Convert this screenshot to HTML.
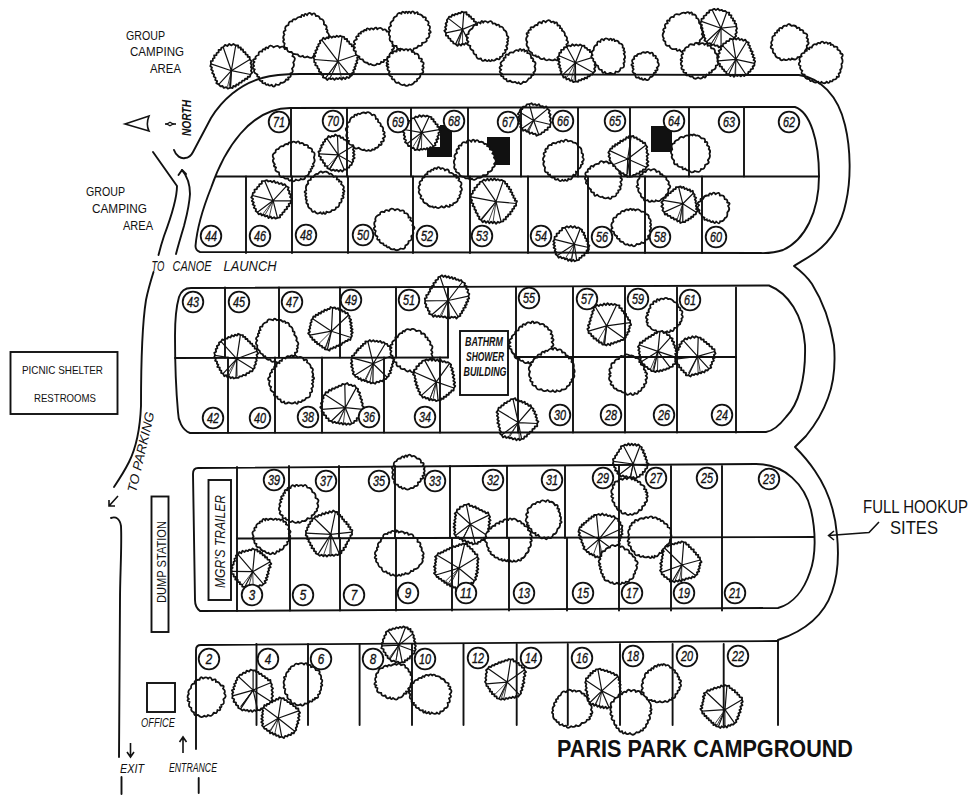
<!DOCTYPE html>
<html><head><meta charset="utf-8"><style>
html,body{margin:0;padding:0;background:#fff;width:971px;height:800px;overflow:hidden}
svg{display:block}
text{font-family:"Liberation Sans",sans-serif}
</style></head><body>
<svg width="971" height="800" viewBox="0 0 971 800">
<rect width="971" height="800" fill="#fff"/>
<g fill="#111">
<path d="M440,125 L452,125 L452,157 L427,157 L427,147 L440,147 Z"/>
<rect x="487" y="137" width="23" height="28"/>
<rect x="651" y="126" width="21" height="26"/>
</g>
<g fill="#fff" stroke="#111" stroke-width="1.8" stroke-linejoin="round">
<path d="M249.8,59.5L251.8,61.3L250.5,63.3L251.7,65.1L250.9,67.0L251.9,68.8L250.9,70.8L252.2,72.6L250.5,74.5L249.9,76.9L247.8,76.7L247.3,79.0L245.1,78.7L244.5,80.6L242.2,80.7L241.6,82.6L239.3,82.6L238.4,84.9L236.4,84.3L235.7,86.5L233.3,86.0L232.6,88.0L230.3,87.6L227.8,88.7L226.3,87.1L223.8,87.9L222.5,86.0L220.3,86.3L218.8,84.4L216.3,83.1L217.2,81.1L215.2,79.9L215.6,77.8L213.7,76.6L214.2,74.4L212.1,73.0L213.0,70.9L211.1,69.6L212.0,67.4L210.3,66.3L211.0,63.9L210.8,61.2L212.8,60.9L212.9,58.5L214.6,58.0L214.1,55.5L216.5,55.1L216.6,53.0L218.7,52.4L218.6,50.0L220.9,49.8L221.3,47.9L223.2,47.2L225.1,44.9L227.3,46.0L229.3,44.0L231.5,45.4L233.4,43.9L235.7,45.5L238.2,45.5L238.3,47.6L240.8,47.3L240.9,49.7L243.0,49.5L243.3,52.0L245.4,52.1L245.6,54.4L247.7,54.9L247.7,56.9L249.7,57.0L249.8,59.5Z"/>
<path d="M231.4,70.7L249.8,59.5M231.4,70.7L250.5,74.5M231.4,70.7L230.3,87.6M231.4,70.7L218.8,84.4M231.4,70.7L211.0,63.9M231.4,70.7L223.2,47.2M231.4,70.7L235.7,45.5" stroke-width="1.2"/>
<path d="M231.4,70.7L230.7,86.9M231.4,70.7L227.5,86.6M231.4,70.7L229.2,86.8" stroke-width="0.8"/>
<path d="M286.0,79.4Q285.0,83.6 280.7,82.6Q279.7,86.1 275.8,84.3Q273.9,88.8 271.7,84.8Q269.2,86.8 268.0,84.3Q265.6,85.8 265.1,83.0Q261.4,84.3 262.4,80.9Q259.0,82.2 259.1,76.9Q256.3,77.3 257.5,74.6Q252.3,72.1 254.8,69.4Q251.1,68.1 254.1,65.9Q251.9,63.8 254.5,62.0Q251.0,59.3 255.8,58.8Q254.3,56.2 258.7,55.0Q258.1,50.5 262.2,51.7Q262.3,47.9 265.3,49.6Q265.0,46.2 268.1,48.3Q269.7,43.6 273.6,47.3Q278.3,44.1 279.6,47.8Q283.3,44.9 284.8,49.1Q288.7,47.2 289.8,52.1Q294.6,51.9 292.4,56.2Q296.9,57.6 293.2,62.5Q295.2,65.8 292.0,68.7Q294.1,72.3 290.4,73.4Q291.8,77.8 288.0,77.4Q289.9,80.7 286.0,79.4Z"/>
<path d="M307.4,56.5Q304.2,58.6 302.9,55.8Q299.2,57.9 297.8,54.3Q292.3,54.6 291.7,51.9Q286.5,52.5 287.0,47.9Q282.8,48.3 284.7,43.5Q281.9,41.5 284.1,39.8Q282.1,37.0 284.5,34.5Q282.1,31.6 285.6,30.4Q283.9,26.1 288.4,25.2Q288.6,20.5 292.2,21.5Q292.5,18.5 295.6,19.5Q298.3,16.1 301.1,17.1Q301.4,13.2 304.0,16.1Q304.8,12.1 307.1,15.2Q309.4,10.8 311.8,14.9Q314.4,11.4 316.0,16.1Q319.5,15.3 320.0,18.9Q324.6,18.7 323.9,24.4Q328.2,26.1 326.0,29.2Q328.6,30.3 326.8,31.9Q331.3,35.4 327.1,38.2Q330.4,41.0 326.0,42.2Q327.9,46.9 323.5,46.7Q324.1,49.8 319.8,51.2Q320.1,55.2 317.4,53.4Q317.1,58.0 313.7,55.5Q312.4,59.8 307.4,56.5Z"/>
<path d="M314.3,59.5L313.3,57.2L315.2,56.1L313.9,53.9L316.2,52.8L315.3,50.6L317.4,49.5L316.7,47.3L318.7,46.3L318.2,44.2L320.3,43.2L319.8,40.9L321.9,40.1L323.3,37.8L325.2,39.2L326.5,37.5L328.5,38.3L329.9,36.1L331.9,37.7L333.3,36.4L335.3,37.2L336.8,35.7L338.7,36.9L340.2,35.7L342.1,36.7L344.1,36.8L344.6,39.1L347.1,39.0L347.1,41.4L349.0,41.5L349.4,43.8L351.8,44.4L351.7,46.4L354.2,46.4L353.8,49.0L355.7,49.1L355.9,51.7L357.9,52.1L357.9,54.5L359.4,56.7L357.1,57.7L357.8,59.7L356.3,60.9L357.3,62.9L355.4,64.1L355.9,66.0L354.3,67.2L355.3,69.0L353.1,70.2L353.9,72.2L351.8,73.3L352.0,75.2L350.4,76.3L348.7,78.0L346.9,76.9L345.2,79.1L343.3,77.4L341.7,79.6L339.8,77.8L338.1,79.1L336.2,78.1L334.5,79.9L332.7,78.2L331.0,79.2L329.1,78.2L327.4,80.0L325.5,78.1L322.9,77.3L323.3,75.2L321.3,74.7L321.2,72.3L318.9,71.6L319.2,69.2L317.5,68.1L317.4,66.0L315.2,65.1L315.8,62.8L314.2,62.2L314.3,59.5Z"/>
<path d="M338.0,61.3L314.3,59.5M338.0,61.3L321.9,40.1M338.0,61.3L342.1,36.7M338.0,61.3L357.9,54.5M338.0,61.3L350.4,76.3M338.0,61.3L325.5,78.1" stroke-width="1.2"/>
<path d="M338.0,61.3L329.9,78.4M338.0,61.3L341.5,78.6M338.0,61.3L329.8,78.4" stroke-width="0.8"/>
<path d="M356.0,51.4Q351.6,50.4 355.0,47.5Q351.9,45.4 355.2,44.0Q351.7,41.0 356.9,39.3Q354.6,35.6 358.8,36.1Q357.1,32.8 361.0,33.6Q359.9,30.9 363.7,31.6Q363.3,29.2 366.4,30.4Q366.5,26.7 369.8,29.8Q370.6,27.3 373.5,29.5Q376.3,25.6 377.2,29.4Q380.6,26.2 382.9,30.0Q386.0,28.4 386.7,31.6Q390.3,30.8 390.1,35.4Q393.4,35.3 391.5,38.8Q396.1,40.8 392.2,43.0Q395.5,43.9 392.3,46.0Q396.3,48.0 391.8,49.8Q394.2,51.3 390.8,52.5Q391.8,56.3 387.5,57.0Q388.4,60.4 383.9,59.9Q384.7,63.1 381.1,61.8Q380.6,65.0 376.9,63.7Q375.1,67.0 370.6,63.9Q368.7,65.5 367.5,62.7Q363.6,63.2 362.8,59.4Q358.5,59.8 359.5,56.5Q354.1,55.1 356.0,51.4Z"/>
<path d="M423.3,17.3Q427.1,16.7 425.5,20.0Q430.2,21.4 428.0,25.0Q431.5,25.9 429.0,30.3Q432.7,32.4 428.8,33.4Q430.9,37.2 426.4,38.9Q428.1,42.2 422.0,43.0Q422.9,46.8 418.2,45.6Q417.5,48.7 413.9,48.4Q412.5,52.9 408.5,50.2Q405.6,53.9 405.1,50.2Q402.1,52.6 400.6,48.6Q396.6,49.8 396.6,46.0Q391.5,46.2 392.5,41.7Q388.5,41.6 390.1,36.3Q387.6,34.3 390.1,30.4Q386.9,27.9 391.2,25.7Q388.8,22.8 393.4,20.2Q393.0,17.0 396.7,16.1Q397.6,11.5 401.5,13.7Q401.8,10.1 405.0,13.2Q405.9,10.1 407.8,13.2Q408.8,10.2 410.8,13.3Q413.0,9.4 414.7,13.6Q418.5,10.2 417.8,14.2Q421.8,13.8 423.3,17.3Z"/>
<path d="M412.0,52.0Q414.8,51.4 414.8,54.0Q419.1,52.6 419.0,58.3Q423.9,58.3 421.0,61.3Q425.7,62.3 422.4,66.1Q425.2,67.7 422.1,69.4Q425.3,73.1 420.3,73.8Q421.1,77.9 416.9,79.1Q418.0,81.9 414.7,81.6Q412.3,85.9 409.3,84.5Q406.2,87.4 404.4,84.5Q401.5,86.4 398.7,82.4Q395.4,84.1 394.3,79.4Q390.6,79.5 392.1,76.8Q386.8,75.2 389.7,71.5Q385.7,69.1 388.7,67.3Q384.4,65.6 388.3,64.4Q384.7,62.8 388.2,61.5Q385.4,57.6 389.6,56.8Q388.6,52.2 392.9,53.3Q392.5,50.5 396.7,51.5Q396.2,47.5 400.0,50.8Q401.2,47.5 404.0,50.3Q406.6,47.7 407.9,50.6Q410.8,47.0 412.0,52.0Z"/>
<path d="M455.6,44.0L453.4,43.4L452.9,41.5L450.7,40.8L450.4,38.8L448.3,38.2L448.1,35.9L445.9,35.6L446.0,32.9L444.3,30.8L446.2,29.2L445.0,27.1L446.6,25.5L445.6,23.5L447.3,21.9L446.8,20.0L448.3,18.4L449.1,16.6L451.3,16.9L452.3,14.7L454.3,15.5L455.2,13.9L457.4,14.4L458.6,12.8L460.6,13.4L461.7,11.6L463.8,12.5L466.5,12.2L466.5,14.5L469.0,14.9L469.0,16.6L470.9,16.5L471.5,18.9L473.9,19.0L473.8,21.3L476.0,21.9L476.0,23.8L476.8,26.1L475.1,26.9L476.3,29.2L474.1,30.1L475.4,32.0L473.0,33.2L473.4,35.1L471.8,36.2L472.5,38.3L470.5,39.2L471.6,41.3L469.1,42.1L467.6,44.3L465.7,43.0L464.3,44.8L462.4,43.6L460.9,45.6L459.0,43.9L457.5,45.9L455.6,44.0Z"/>
<path d="M462.5,29.4L455.6,44.0M462.5,29.4L446.0,32.9M462.5,29.4L448.3,18.4M462.5,29.4L463.8,12.5M462.5,29.4L476.0,23.8M462.5,29.4L469.1,42.1" stroke-width="1.2"/>
<path d="M462.5,29.4L462.6,43.9M462.5,29.4L458.6,43.8M462.5,29.4L458.0,43.7" stroke-width="0.8"/>
<path d="M503.0,53.7Q502.8,57.6 500.0,56.8Q500.3,60.9 496.7,58.6Q494.0,61.9 491.8,59.8Q490.3,62.6 488.9,59.9Q487.4,62.4 485.1,59.6Q482.4,62.8 480.9,58.3Q476.2,60.2 476.1,54.6Q473.2,54.8 473.3,50.7Q469.0,49.2 470.4,45.8Q465.6,45.1 468.5,41.6Q465.3,40.0 468.0,37.8Q464.0,35.4 468.7,33.9Q467.7,31.0 472.5,28.4Q473.6,23.9 477.0,25.1Q477.2,20.6 480.6,23.5Q481.1,18.9 483.3,22.7Q484.5,19.8 487.8,22.6Q491.4,19.1 492.7,23.7Q495.6,22.6 496.4,25.3Q499.4,23.5 499.6,26.8Q503.1,25.9 503.8,29.9Q507.1,31.1 506.8,35.4Q509.9,37.5 507.2,39.1Q509.3,41.1 506.9,42.0Q509.1,44.1 506.1,45.9Q508.9,50.0 504.9,50.0Q506.9,52.8 503.0,53.7Z"/>
<path d="M501.3,69.8Q497.5,67.6 501.9,65.6Q498.4,63.0 504.0,60.0Q502.6,57.5 505.6,57.7Q504.8,52.8 508.6,55.0Q509.1,51.5 513.4,52.6Q515.5,48.8 518.6,51.0Q520.1,46.9 521.6,50.9Q524.6,47.6 524.5,51.6Q528.0,49.1 527.2,53.2Q531.3,52.6 531.1,58.0Q534.3,58.1 532.9,61.2Q537.2,61.9 534.5,66.5Q536.7,70.7 533.4,72.5Q535.1,74.8 531.2,75.9Q531.5,78.7 528.6,78.5Q526.4,83.3 523.4,81.6Q520.6,86.1 518.6,82.2Q517.4,84.7 515.2,81.8Q511.9,83.3 510.2,80.6Q506.2,82.8 506.4,79.0Q502.9,79.5 503.4,76.4Q499.4,76.4 501.9,73.7Q497.8,72.2 501.3,69.8Z"/>
<path d="M537.5,25.2Q538.2,20.4 541.8,23.4Q542.8,18.9 545.7,22.3Q548.6,18.1 551.2,22.2Q554.1,20.4 554.5,23.4Q557.4,20.5 557.5,25.6Q561.0,24.4 559.9,28.2Q562.7,27.7 561.9,30.7Q565.2,31.4 564.9,35.6Q568.4,37.7 566.4,40.3Q569.9,42.0 566.3,44.4Q567.9,46.7 565.1,48.6Q567.1,52.5 561.8,54.3Q562.4,57.7 558.3,57.6Q558.3,61.9 554.8,59.2Q553.5,61.6 548.9,59.4Q546.3,61.7 544.1,58.2Q541.3,60.8 538.5,56.4Q535.6,57.7 535.8,55.3Q532.1,56.5 532.0,52.8Q527.2,50.8 528.7,47.9Q525.2,45.5 527.4,42.1Q524.6,38.9 527.8,35.8Q524.8,32.3 528.8,32.9Q527.0,30.2 531.0,29.6Q529.1,26.4 533.5,27.4Q534.9,24.2 537.5,25.2Z"/>
<path d="M593.4,72.7L592.5,74.5L590.6,74.4L589.6,76.4L587.7,76.1L587.0,78.4L584.8,77.6L584.1,79.4L581.8,78.9L581.1,80.4L578.7,80.2L578.0,81.9L575.6,81.3L573.2,82.2L572.2,80.1L570.1,80.9L568.9,78.7L566.5,79.5L565.7,76.9L563.4,77.6L562.6,74.9L560.6,73.6L561.7,71.8L560.2,70.5L560.9,68.6L559.1,67.2L560.2,65.5L558.1,64.1L559.7,62.2L558.3,60.8L559.4,59.0L557.3,57.7L559.1,55.8L559.3,52.9L561.2,52.5L561.1,49.9L563.8,49.6L564.0,47.5L566.7,47.0L568.5,45.3L570.6,46.3L572.3,44.3L574.4,45.8L576.2,44.5L578.3,45.7L580.1,44.4L582.2,45.8L584.4,45.7L584.8,47.7L586.9,48.1L587.4,49.8L590.0,49.8L589.8,52.0L591.9,52.0L592.0,54.4L594.4,54.3L594.2,56.9L596.1,58.9L594.5,60.9L595.5,62.9L594.5,64.8L595.6,66.9L594.1,68.8L595.2,70.8L593.4,72.7Z"/>
<path d="M575.4,62.7L593.4,72.7M575.4,62.7L575.6,81.3M575.4,62.7L562.6,74.9M575.4,62.7L559.1,55.8M575.4,62.7L566.7,47.0M575.4,62.7L582.2,45.8M575.4,62.7L594.2,56.9" stroke-width="1.2"/>
<path d="M575.4,62.7L571.3,79.5M575.4,62.7L566.9,77.3M575.4,62.7L574.1,80.2" stroke-width="0.8"/>
<path d="M609.2,40.0Q611.0,37.1 612.0,40.4Q614.0,37.5 614.8,41.2Q617.9,39.4 619.3,43.4Q623.6,43.7 622.6,47.6Q625.3,47.7 623.4,50.6Q626.4,51.8 623.7,53.7Q626.4,57.2 623.9,59.3Q625.7,62.4 623.4,63.0Q625.8,68.1 620.6,68.2Q619.6,73.0 615.7,71.5Q614.7,76.0 610.3,72.8Q606.3,75.6 604.8,71.8Q602.1,74.4 601.8,69.9Q598.3,70.3 598.1,65.8Q595.0,65.5 595.2,62.1Q592.4,61.7 593.4,59.0Q589.4,56.5 592.6,55.1Q590.3,52.0 593.7,50.1Q593.7,44.9 597.1,45.0Q596.8,39.7 600.4,42.0Q600.7,37.3 603.8,40.4Q605.2,36.4 609.2,40.0Z"/>
<path d="M641.7,78.2Q639.9,80.0 638.7,77.2Q635.0,78.9 635.2,73.9Q630.6,72.2 633.7,69.1Q631.4,67.7 633.4,66.4Q629.3,64.7 633.2,63.5Q630.4,59.8 634.3,58.9Q633.1,55.3 636.9,56.0Q636.8,53.3 641.0,53.8Q641.9,51.3 645.6,52.8Q647.7,50.5 649.9,53.6Q653.1,50.8 653.2,55.8Q657.1,54.9 655.6,58.2Q658.9,58.8 657.5,62.0Q660.7,65.3 656.7,67.8Q659.3,70.2 655.2,70.6Q657.4,73.5 653.9,72.8Q653.4,77.0 650.2,77.0Q647.9,82.4 644.9,78.6Q642.8,81.5 641.7,78.2Z"/>
<path d="M669.4,45.6Q664.7,46.8 665.4,41.7Q662.1,40.3 663.9,38.3Q661.2,35.4 664.2,31.4Q661.5,29.3 665.5,27.8Q663.5,23.2 667.8,23.3Q665.5,19.2 669.5,20.8Q669.4,16.3 673.8,17.0Q674.0,13.2 679.3,14.6Q683.4,11.5 685.4,13.3Q688.7,11.0 689.4,13.6Q692.2,10.6 692.3,14.7Q696.7,13.7 696.4,18.2Q699.2,18.1 699.1,23.0Q702.2,24.9 700.9,28.0Q704.1,32.2 701.7,34.1Q704.9,36.9 699.7,40.3Q700.4,43.3 697.3,43.3Q697.3,46.1 692.5,47.1Q689.9,50.8 687.1,49.5Q686.6,53.4 684.2,50.0Q681.6,54.1 679.6,49.6Q676.5,52.4 676.4,48.8Q670.2,50.2 669.4,45.6Z"/>
<path d="M734.1,37.7L733.3,39.7L731.1,40.1L730.1,42.3L727.9,42.3L727.2,44.4L724.6,44.2L723.5,46.7L721.1,45.9L718.8,47.4L717.4,45.3L715.1,45.8L713.7,44.4L711.5,45.2L710.1,43.2L707.9,43.7L706.6,41.7L704.4,40.4L705.5,38.4L703.8,37.2L704.4,35.1L702.9,33.9L703.4,31.7L702.0,30.3L702.6,28.3L701.2,27.1L702.0,24.9L699.8,23.4L701.4,21.4L701.5,18.9L703.8,18.3L703.7,16.0L706.3,15.2L706.7,13.0L709.2,12.5L709.3,10.4L712.2,9.9L714.3,8.8L715.9,10.1L717.9,8.6L719.6,10.5L721.6,9.8L723.2,11.2L725.2,10.8L726.7,12.3L729.3,12.7L728.9,14.9L731.5,15.4L731.0,17.6L733.1,18.3L732.9,20.5L734.9,20.9L734.6,23.5L736.2,23.9L736.2,26.5L737.0,28.6L736.0,30.3L736.9,32.6L735.3,34.1L736.2,36.1L734.1,37.7Z"/>
<path d="M721.0,28.2L734.1,37.7M721.0,28.2L721.1,45.9M721.0,28.2L706.6,41.7M721.0,28.2L701.4,21.4M721.0,28.2L712.2,9.9M721.0,28.2L726.7,12.3M721.0,28.2L736.2,26.5" stroke-width="1.2"/>
<path d="M721.0,28.2L713.6,44.9M721.0,28.2L711.1,44.0M721.0,28.2L711.1,44.0" stroke-width="0.8"/>
<path d="M688.5,46.8Q688.6,42.9 694.1,45.0Q695.0,40.8 699.1,44.5Q703.4,41.8 704.4,44.8Q707.9,42.0 707.6,45.9Q710.8,44.3 711.2,48.4Q715.3,47.7 715.0,52.8Q718.4,54.2 717.1,57.6Q719.4,59.1 717.3,61.1Q720.4,64.5 715.8,65.7Q716.4,69.9 711.7,70.3Q713.0,73.1 709.1,72.5Q709.8,76.2 706.5,74.5Q705.6,79.3 703.3,76.4Q700.9,80.1 698.1,77.4Q694.5,80.6 692.3,76.2Q689.2,77.6 689.2,74.8Q684.8,76.6 686.3,72.8Q681.8,73.1 683.9,69.9Q679.7,69.2 682.4,66.0Q679.2,64.5 682.2,61.2Q678.8,60.0 682.4,57.9Q680.1,54.6 683.2,53.9Q680.7,50.4 684.6,50.7Q684.3,46.9 688.5,46.8Z"/>
<path d="M754.4,63.3L754.4,65.6L752.6,66.4L753.1,68.7L750.7,69.3L750.5,71.5L748.4,72.0L747.9,74.3L745.9,74.5L744.2,76.0L742.5,74.8L740.8,76.4L739.1,75.0L737.3,76.1L735.6,75.0L733.9,76.8L732.2,74.7L730.4,76.1L728.7,74.3L726.3,73.8L726.3,71.8L724.1,71.2L724.0,69.3L722.2,69.2L721.9,66.6L719.7,66.3L720.0,63.8L717.8,63.0L718.1,60.9L717.3,58.6L718.9,57.0L717.5,54.5L719.8,53.2L718.6,50.7L721.2,49.4L720.6,47.3L722.8,45.8L723.2,43.6L725.8,43.2L726.4,41.1L729.1,41.0L730.0,38.7L732.7,39.4L734.8,38.4L736.2,39.5L738.3,37.9L739.8,40.0L741.8,39.0L743.2,40.8L745.3,39.6L746.6,41.8L748.8,42.7L748.0,44.8L750.0,45.7L749.3,47.8L751.0,48.7L750.5,50.8L752.7,51.7L751.6,53.9L753.7,55.0L752.6,57.0L754.8,58.0L753.5,60.1L755.2,61.2L754.4,63.3Z"/>
<path d="M735.9,59.3L754.4,63.3M735.9,59.3L745.9,74.5M735.9,59.3L728.7,74.3M735.9,59.3L718.1,60.9M735.9,59.3L722.8,45.8M735.9,59.3L732.7,39.4M735.9,59.3L746.6,41.8" stroke-width="1.2"/>
<path d="M735.9,59.3L735.6,75.5M735.9,59.3L726.3,72.5M735.9,59.3L734.8,75.4" stroke-width="0.8"/>
<path d="M783.9,59.2Q780.2,61.7 779.8,58.2Q775.3,58.2 774.9,53.7Q772.0,53.5 773.0,49.1Q768.7,47.6 772.2,45.0Q769.9,43.2 772.6,40.0Q771.2,35.9 775.0,35.3Q773.6,32.2 777.2,32.7Q776.4,29.1 779.2,30.7Q778.3,26.8 782.1,28.3Q783.6,24.6 786.6,26.0Q788.1,22.1 791.5,25.9Q795.7,24.5 797.0,28.2Q799.9,26.3 799.9,30.0Q803.8,29.1 803.4,32.8Q809.3,33.6 806.5,37.8Q809.3,38.9 807.2,41.4Q810.5,42.8 806.7,45.8Q807.8,49.3 805.1,50.4Q806.8,55.5 802.1,54.5Q801.3,57.7 797.5,57.1Q796.7,61.1 791.6,58.4Q790.5,61.1 788.8,58.8Q786.9,61.3 783.9,59.2Z"/>
<path d="M811.7,47.6Q813.4,42.9 816.6,44.6Q818.0,41.8 820.2,43.4Q822.1,40.0 824.2,43.2Q826.9,41.2 827.9,43.9Q831.2,41.3 830.7,45.0Q832.9,43.6 834.1,46.9Q838.4,45.8 837.4,49.6Q841.2,50.4 840.3,53.5Q844.6,53.8 841.5,57.5Q843.9,61.8 841.4,64.0Q842.6,68.3 840.1,69.8Q841.6,72.4 838.6,73.6Q840.3,77.9 836.7,76.7Q837.4,79.5 833.1,79.7Q832.6,82.3 830.1,81.0Q828.9,84.6 826.7,81.6Q824.4,84.8 821.5,81.8Q819.2,85.5 818.4,81.7Q813.9,83.9 812.3,80.4Q809.9,82.5 809.5,79.0Q804.2,79.2 804.7,74.6Q799.6,74.4 802.4,70.8Q798.9,68.5 800.6,66.0Q797.1,64.8 800.2,61.5Q798.0,57.4 801.7,56.4Q799.8,53.3 804.5,52.9Q804.2,50.5 806.9,50.9Q805.5,46.8 809.3,49.2Q808.5,46.7 811.7,47.6Z"/>
<path d="M274.9,164.4Q271.3,160.5 273.9,158.7Q270.8,154.5 275.5,152.4Q275.5,148.7 278.5,149.1Q280.2,145.3 283.3,146.3Q285.2,143.0 288.0,144.4Q289.0,140.9 290.9,143.5Q292.8,140.1 296.1,142.9Q298.4,139.5 299.8,143.5Q303.3,142.0 304.1,145.2Q308.9,144.0 308.1,147.6Q313.5,148.2 311.9,151.6Q316.2,151.9 313.9,157.6Q315.8,161.8 312.8,163.9Q315.3,166.7 311.7,166.7Q313.5,168.8 310.5,169.2Q312.1,172.2 309.1,171.7Q309.3,175.8 305.4,176.3Q305.2,180.7 300.7,178.8Q299.6,181.7 295.8,179.4Q293.2,183.3 291.7,179.2Q289.4,182.6 288.0,178.5Q283.9,179.4 283.5,176.6Q279.0,178.5 279.0,172.4Q273.4,171.2 276.1,167.4Q272.3,166.3 274.9,164.4Z"/>
<path d="M329.7,169.1L327.3,168.2L327.3,166.2L324.7,165.8L325.0,163.3L323.0,162.6L322.9,160.2L320.4,159.7L321.0,157.0L318.9,156.2L319.2,153.8L318.4,151.6L320.5,150.6L320.1,148.5L321.8,147.5L321.1,145.3L323.4,144.4L322.9,142.4L325.2,141.5L324.8,139.6L327.0,138.7L328.5,136.0L330.4,137.3L331.8,135.8L333.9,136.4L335.2,134.4L337.5,136.0L339.7,135.6L340.7,137.8L343.0,137.5L343.9,139.6L345.9,139.9L346.9,141.7L349.5,141.3L349.9,143.9L352.1,143.8L352.7,146.3L354.0,148.0L352.9,149.6L354.4,151.3L353.0,152.9L354.7,154.6L352.9,156.2L354.7,157.9L352.5,159.4L353.3,161.1L352.1,162.7L351.7,164.8L349.8,165.4L349.1,167.7L347.1,167.7L346.9,169.7L344.1,169.5L342.3,171.6L340.5,169.9L338.7,171.5L336.9,169.9L335.1,170.9L333.3,169.6L331.4,170.6L329.7,169.1Z"/>
<path d="M338.2,154.9L329.7,169.1M338.2,154.9L319.2,153.8M338.2,154.9L327.0,138.7M338.2,154.9L337.5,136.0M338.2,154.9L352.7,146.3M338.2,154.9L352.1,162.7M338.2,154.9L344.1,169.5" stroke-width="1.2"/>
<path d="M338.2,154.9L327.7,166.6M338.2,154.9L330.5,168.2M338.2,154.9L329.9,167.9" stroke-width="0.8"/>
<path d="M375.2,147.9Q375.2,150.6 372.4,149.3Q370.8,152.1 368.5,150.0Q366.1,151.9 364.3,149.5Q362.1,151.4 358.6,147.7Q354.5,150.4 353.2,145.2Q347.0,145.0 349.1,140.8Q345.1,141.6 348.0,138.0Q344.7,136.8 347.5,132.3Q343.7,128.2 348.0,127.0Q345.5,123.1 349.6,121.9Q350.2,116.5 354.1,116.9Q354.0,113.4 356.8,115.4Q357.2,112.7 360.0,114.2Q363.2,111.3 365.8,113.3Q368.7,110.4 372.1,115.2Q375.7,113.2 375.9,119.0Q378.7,118.0 378.0,122.0Q381.9,123.3 380.5,125.9Q384.2,126.9 382.9,131.0Q386.3,132.4 383.4,134.3Q387.2,136.5 382.7,138.4Q386.0,141.3 381.0,142.0Q383.0,146.0 378.9,144.7Q378.8,148.3 375.2,147.9Z"/>
<path d="M433.3,146.2L432.0,148.1L430.2,147.1L428.9,149.3L427.0,148.0L425.8,149.5L423.8,148.6L422.4,149.7L420.6,149.0L419.2,150.3L417.3,149.3L414.9,150.2L413.7,147.8L411.3,148.0L410.4,145.9L408.3,146.2L407.4,143.6L405.0,142.3L406.1,140.2L403.9,138.8L405.1,136.7L403.7,135.1L404.5,133.1L402.6,131.6L404.0,129.5L404.3,127.1L406.2,126.3L406.7,123.7L408.6,123.4L408.8,120.8L411.2,120.6L411.2,118.4L414.1,118.1L415.8,116.5L417.8,117.3L419.5,115.1L421.5,116.8L423.3,115.3L425.3,116.6L427.0,115.6L429.1,116.7L431.5,117.2L431.3,119.1L433.6,119.1L433.5,121.5L435.3,121.8L435.5,124.1L437.7,124.3L437.3,126.8L439.2,127.0L439.1,129.6L440.5,131.6L438.3,133.0L439.0,135.1L437.3,136.4L438.5,138.7L436.2,139.7L437.2,142.0L434.8,143.0L435.5,145.2L433.3,146.2Z"/>
<path d="M421.8,132.6L433.3,146.2M421.8,132.6L417.3,149.3M421.8,132.6L407.4,143.6M421.8,132.6L404.0,129.5M421.8,132.6L414.1,118.1M421.8,132.6L429.1,116.7M421.8,132.6L439.1,129.6" stroke-width="1.2"/>
<path d="M421.8,132.6L416.7,148.6M421.8,132.6L421.4,149.5M421.8,132.6L413.0,146.8" stroke-width="0.8"/>
<path d="M453.2,203.3Q453.6,206.5 449.9,204.7Q450.7,208.7 446.1,205.5Q444.2,209.2 441.6,206.1Q438.1,209.8 435.6,206.7Q432.9,208.5 432.7,206.4Q428.9,207.4 426.9,203.7Q422.1,202.9 423.2,199.3Q418.7,198.7 421.4,195.9Q416.9,192.3 419.8,189.9Q417.1,187.3 420.3,184.5Q417.9,181.7 422.2,180.3Q421.5,177.4 424.5,177.3Q424.4,173.3 427.5,174.2Q426.3,170.6 430.7,171.5Q430.7,168.9 433.4,170.0Q434.0,166.9 436.8,169.0Q438.1,165.4 440.7,169.1Q443.2,166.7 445.0,170.5Q448.7,167.6 449.3,172.7Q453.9,173.0 453.9,175.6Q457.9,173.6 456.3,177.8Q461.0,177.3 458.4,180.5Q463.6,182.7 460.3,186.5Q463.7,189.9 460.2,191.6Q462.0,193.3 459.3,195.4Q461.0,197.4 457.7,198.9Q458.6,202.0 453.2,203.3Z"/>
<path d="M487.9,172.0Q488.9,175.8 482.9,175.1Q482.1,178.6 477.7,177.6Q473.7,181.6 471.9,178.5Q469.3,181.1 468.9,178.1Q464.7,179.3 464.2,176.6Q460.1,177.4 458.8,173.1Q454.6,172.2 456.0,169.5Q453.1,169.0 454.7,164.7Q452.7,161.6 455.3,158.6Q452.8,155.3 457.1,152.9Q455.0,148.9 459.1,148.5Q457.2,144.6 461.4,145.6Q461.7,140.8 466.1,142.8Q468.0,138.1 471.4,141.8Q472.9,137.7 475.1,141.7Q477.1,138.4 479.3,142.2Q483.1,140.8 484.3,144.0Q487.8,143.3 487.1,146.2Q490.6,146.8 489.8,149.4Q495.3,150.6 492.3,153.5Q495.8,155.1 493.9,157.5Q497.8,161.4 494.0,163.9Q496.4,166.0 492.4,167.7Q492.7,171.7 487.9,172.0Z"/>
<path d="M471.0,196.8L470.7,194.3L472.8,193.4L472.8,190.8L474.8,190.2L474.4,187.8L477.0,187.1L477.1,184.9L479.5,184.1L479.7,182.1L482.1,181.3L483.8,179.5L485.6,180.8L487.3,178.7L489.1,180.5L490.9,178.6L492.6,180.3L494.4,178.4L496.2,180.4L497.9,179.1L499.7,180.6L501.5,179.8L503.3,180.9L505.0,181.5L505.1,183.6L507.3,184.0L506.9,186.3L509.3,186.9L508.7,189.0L511.2,189.7L510.3,191.8L512.4,192.5L511.9,194.7L513.7,195.5L513.3,197.6L515.3,198.5L514.7,200.6L517.0,201.2L516.0,203.5L516.2,205.6L514.1,206.3L514.2,208.6L512.2,209.1L512.4,211.4L510.2,211.8L510.6,214.3L508.1,214.4L508.1,216.5L505.8,216.9L505.9,219.4L503.5,219.3L503.3,221.4L501.1,221.7L499.3,222.8L497.8,221.8L496.0,223.8L494.4,221.8L492.6,223.2L491.1,221.6L489.3,223.3L487.8,221.2L486.0,222.8L484.5,220.7L482.7,222.2L481.2,220.0L479.0,218.9L479.4,216.9L477.4,215.8L477.7,213.6L475.6,212.5L476.1,210.4L474.4,209.4L474.7,207.1L472.6,205.9L473.4,203.7L470.9,202.6L472.1,200.3L470.7,199.1L471.0,196.8Z"/>
<path d="M496.0,201.6L471.0,196.8M496.0,201.6L482.1,181.3M496.0,201.6L503.3,180.9M496.0,201.6L516.0,203.5M496.0,201.6L501.1,221.7M496.0,201.6L481.2,220.0" stroke-width="1.2"/>
<path d="M496.0,201.6L493.0,222.3M496.0,201.6L488.6,221.9M496.0,201.6L481.2,218.8" stroke-width="0.8"/>
<path d="M308.3,183.6Q306.7,179.9 310.9,179.8Q310.2,176.2 313.5,177.1Q315.4,173.0 317.9,174.1Q320.6,169.7 322.7,172.7Q326.8,170.1 329.3,174.1Q331.6,172.5 333.5,176.8Q338.1,175.3 336.7,179.5Q340.2,179.1 338.9,181.7Q343.0,180.7 341.0,184.3Q345.7,186.9 342.9,189.5Q346.1,191.5 342.9,192.7Q345.2,194.3 342.3,195.7Q345.5,197.7 341.3,198.9Q342.5,202.8 339.4,202.9Q339.7,207.9 336.0,207.4Q336.0,210.6 331.8,210.1Q330.7,213.5 326.4,211.7Q325.5,216.0 323.5,212.2Q322.2,215.5 320.6,212.3Q316.9,215.2 314.7,211.3Q312.0,213.2 311.2,209.0Q307.2,207.6 308.1,204.2Q305.2,204.0 307.0,200.1Q304.5,199.6 306.6,196.9Q304.0,196.2 306.3,193.4Q302.8,192.0 306.3,190.5Q304.9,185.5 308.3,183.6Z"/>
<path d="M277.5,217.8L275.4,218.6L274.1,217.2L271.9,218.5L270.7,216.5L268.5,218.1L267.3,215.7L265.2,216.5L264.0,214.7L261.8,215.5L260.7,213.5L258.7,214.3L257.4,212.3L255.7,211.1L256.0,209.0L253.8,207.7L254.8,205.7L252.6,204.5L253.9,202.4L251.8,200.9L253.1,198.9L251.2,197.5L252.5,195.5L252.9,192.8L254.7,192.3L254.5,189.6L256.9,189.2L257.2,187.0L259.3,186.3L259.2,184.3L261.9,183.6L261.8,181.1L264.7,180.9L266.9,180.1L268.3,181.5L270.6,180.8L272.0,182.2L274.1,180.8L275.6,183.0L277.7,182.2L279.1,184.0L281.4,183.1L282.7,185.1L284.8,184.2L286.2,186.3L288.7,187.5L287.7,189.8L289.5,191.2L289.0,193.4L291.3,194.7L290.0,197.1L292.1,198.7L290.6,200.9L291.0,203.2L288.7,203.9L289.3,206.2L286.7,206.9L287.2,208.9L284.6,209.8L284.5,211.9L282.4,212.5L282.4,214.6L280.0,215.2L280.1,217.4L277.5,217.8Z"/>
<path d="M273.1,200.6L277.5,217.8M273.1,200.6L257.4,212.3M273.1,200.6L252.5,195.5M273.1,200.6L264.7,180.9M273.1,200.6L286.2,186.3M273.1,200.6L290.6,200.9" stroke-width="1.2"/>
<path d="M273.1,200.6L269.0,217.8M273.1,200.6L261.9,215.3M273.1,200.6L264.1,216.4" stroke-width="0.8"/>
<path d="M380.1,214.3Q379.6,210.7 384.4,212.2Q385.2,208.7 389.0,211.0Q391.3,206.5 395.0,210.3Q398.1,207.7 400.1,210.9Q404.6,209.1 404.4,213.2Q408.9,212.8 408.5,217.7Q412.1,216.7 410.2,220.2Q415.0,222.3 412.3,225.2Q416.5,227.5 412.8,230.3Q414.3,235.0 411.2,236.0Q413.1,240.8 408.5,241.2Q409.1,244.5 405.4,245.3Q405.5,250.0 400.7,248.5Q396.3,251.7 394.0,248.9Q391.3,250.5 388.9,246.9Q386.7,248.2 386.4,245.5Q383.4,246.3 383.3,243.4Q379.2,243.9 379.5,239.7Q375.9,240.7 377.6,236.5Q373.5,235.6 375.8,230.9Q372.0,228.4 375.2,226.7Q373.0,222.7 375.6,221.0Q374.0,216.2 380.1,214.3Z"/>
<path d="M519.4,112.1L520.2,109.7L522.4,109.1L523.0,106.6L525.7,106.5L526.8,104.3L529.3,104.2L531.5,103.2L533.0,104.8L535.2,104.2L536.8,105.6L538.8,104.1L540.4,106.5L542.7,106.1L544.0,107.7L546.3,106.4L547.6,108.9L549.7,110.7L548.7,112.8L550.6,114.5L549.5,116.6L550.9,118.3L550.0,120.5L551.1,122.2L550.3,124.5L550.1,127.1L547.7,127.3L547.6,129.9L544.9,129.9L544.2,132.1L541.9,132.3L541.1,134.2L538.8,134.6L536.5,135.8L535.4,133.6L533.2,134.1L532.0,132.5L529.7,133.7L528.7,131.3L526.4,131.6L525.4,129.8L523.2,130.8L522.2,128.3L520.1,126.9L521.4,125.1L519.9,123.8L520.6,121.9L519.1,120.5L520.0,118.7L518.4,117.3L519.7,115.4L517.8,114.0L519.4,112.1Z"/>
<path d="M533.6,120.5L519.4,112.1M533.6,120.5L529.3,104.2M533.6,120.5L547.6,108.9M533.6,120.5L550.3,124.5M533.6,120.5L538.8,134.6M533.6,120.5L522.2,128.3" stroke-width="1.2"/>
<path d="M533.6,120.5L527.0,132.3M533.6,120.5L528.1,132.9M533.6,120.5L526.3,131.8" stroke-width="0.8"/>
<path d="M581.6,153.2Q584.3,154.2 582.4,157.1Q585.4,159.8 581.9,162.1Q584.3,163.7 580.8,165.0Q581.6,167.7 577.9,169.1Q578.9,172.6 575.9,171.5Q576.8,176.6 573.3,174.6Q571.7,181.3 568.4,178.6Q567.1,182.6 565.3,179.6Q563.7,181.9 562.3,179.8Q560.0,182.9 557.9,178.9Q554.4,181.0 554.7,177.5Q550.3,178.4 550.0,174.5Q547.2,175.5 548.0,172.5Q543.6,173.2 545.1,167.3Q542.0,164.5 544.3,161.4Q541.3,159.5 544.7,155.9Q541.9,152.9 545.9,151.8Q543.8,148.5 547.7,148.5Q547.4,144.2 551.7,145.1Q551.6,142.0 555.9,143.5Q557.9,140.5 559.8,142.5Q560.7,139.0 563.6,141.8Q565.8,137.7 567.9,141.4Q571.6,139.8 573.2,142.7Q577.4,142.4 578.0,146.6Q582.4,147.3 581.6,153.2Z"/>
<path d="M631.1,136.5L633.4,136.0L634.2,137.9L636.6,137.3L637.3,139.4L639.7,139.3L640.2,141.1L642.3,141.2L643.0,143.1L645.0,142.7L645.7,145.2L647.3,147.0L646.1,148.8L647.3,150.6L646.5,152.5L648.5,154.3L646.6,156.1L647.7,158.0L646.6,159.8L648.5,161.6L646.5,163.5L648.4,165.3L646.2,167.2L645.2,169.8L643.1,169.4L642.2,171.6L639.9,171.4L639.2,173.9L636.6,173.3L635.7,174.9L633.2,174.9L632.0,176.7L629.7,176.4L627.3,176.9L626.5,174.8L624.3,175.2L623.4,173.2L621.0,173.4L620.4,171.4L618.3,171.5L617.5,169.4L615.2,169.2L614.7,167.4L612.2,167.3L611.9,165.2L610.1,163.7L610.9,161.6L609.5,160.1L610.1,158.0L608.5,156.4L609.8,154.3L608.3,152.6L609.7,150.6L610.3,148.7L612.2,148.6L612.5,146.1L614.8,146.6L615.2,144.2L617.4,144.8L617.9,142.9L620.0,143.0L620.3,140.6L622.7,141.3L623.5,139.3L625.5,139.6L626.4,137.2L628.3,138.0L628.9,136.1L631.1,136.5Z"/>
<path d="M627.7,159.0L631.1,136.5M627.7,159.0L645.7,145.2M627.7,159.0L646.2,167.2M627.7,159.0L629.7,176.4M627.7,159.0L611.9,165.2M627.7,159.0L609.7,150.6" stroke-width="1.2"/>
<path d="M627.7,159.0L627.2,174.3M627.7,159.0L626.9,174.3M627.7,159.0L627.4,174.3" stroke-width="0.8"/>
<path d="M613.1,166.1Q615.8,165.3 615.8,168.5Q620.3,170.8 619.3,173.5Q622.8,175.1 620.4,177.9Q623.8,179.2 620.3,181.9Q623.1,186.0 619.4,186.4Q622.6,189.6 618.1,190.3Q619.3,193.4 616.4,193.3Q617.1,197.3 612.0,196.6Q610.9,200.8 608.2,197.4Q604.5,199.6 602.3,196.6Q600.1,198.3 597.3,194.8Q593.7,197.5 594.0,192.7Q590.0,192.7 591.1,189.6Q586.8,187.3 588.2,184.4Q584.1,183.5 586.9,180.7Q583.0,178.0 586.5,176.5Q583.4,172.2 587.9,171.9Q586.8,168.1 590.3,168.9Q589.9,164.5 593.4,166.7Q594.2,163.5 598.7,163.9Q600.9,159.1 603.7,162.7Q606.4,159.9 608.8,163.5Q613.5,161.8 613.1,166.1Z"/>
<path d="M674.6,143.1Q674.1,140.6 678.5,139.6Q680.2,135.6 683.5,137.6Q685.7,134.2 689.4,136.0Q690.5,133.6 692.3,135.5Q693.9,133.4 695.8,135.7Q698.6,134.3 701.5,138.4Q706.0,137.6 704.9,142.1Q708.5,141.0 707.0,145.3Q710.5,146.6 708.7,149.1Q711.2,150.9 709.4,153.7Q711.1,157.0 707.8,160.1Q710.5,163.5 705.1,164.9Q705.0,169.6 701.0,169.0Q700.5,173.5 694.8,171.0Q691.1,174.4 688.9,169.9Q686.5,171.2 685.4,168.5Q681.7,170.9 682.5,167.2Q676.9,167.4 677.3,164.2Q673.0,165.4 674.2,160.4Q670.4,158.0 672.4,154.8Q669.5,152.2 672.3,149.4Q670.1,143.8 674.6,143.1Z"/>
<path d="M661.5,198.8Q659.6,202.5 655.7,200.3Q654.3,203.0 651.7,200.5Q649.7,203.6 647.6,200.0Q642.9,202.1 643.9,198.1Q640.2,197.4 640.8,193.8Q636.6,190.8 638.9,188.3Q634.4,186.6 638.2,185.0Q636.1,180.9 639.4,178.5Q639.3,174.3 642.5,174.4Q642.7,170.9 645.6,172.1Q648.0,167.2 650.7,170.5Q655.0,167.2 656.5,172.0Q660.0,169.8 660.2,174.4Q663.2,173.2 662.4,176.0Q667.4,176.3 666.2,179.4Q670.3,181.9 668.3,184.2Q672.5,186.7 668.1,189.3Q669.3,193.6 666.1,194.5Q665.2,198.8 661.5,198.8Z"/>
<path d="M696.2,212.3L695.8,214.4L693.7,214.6L693.1,217.0L691.2,216.7L690.8,218.7L688.5,218.6L688.3,220.4L685.7,220.4L685.2,222.1L682.8,222.0L680.3,223.0L679.6,220.7L677.4,221.5L676.4,219.2L674.0,219.5L673.3,217.6L671.1,218.0L670.2,215.9L667.8,215.9L667.2,214.0L664.9,214.5L664.2,212.1L662.4,210.3L663.4,208.2L661.3,206.4L663.1,204.3L661.3,202.4L663.4,200.3L663.4,197.7L665.7,197.9L666.2,195.3L668.1,195.5L668.0,193.4L670.6,193.2L671.2,191.3L673.2,191.0L673.2,189.3L675.8,189.0L675.9,187.2L678.6,187.0L680.8,186.5L681.7,187.9L683.6,186.9L684.7,189.0L686.6,188.4L687.7,190.2L689.9,189.4L690.5,191.7L692.7,190.7L693.3,193.3L694.7,194.7L694.1,196.4L696.2,197.7L694.8,199.6L696.0,200.9L695.4,202.7L696.7,204.1L695.8,205.9L696.9,207.4L696.0,209.1L698.1,210.5L696.2,212.3Z"/>
<path d="M682.8,203.7L696.2,212.3M682.8,203.7L682.8,222.0M682.8,203.7L664.2,212.1M682.8,203.7L663.4,200.3M682.8,203.7L678.6,187.0M682.8,203.7L693.3,193.3" stroke-width="1.2"/>
<path d="M682.8,203.7L680.2,220.5M682.8,203.7L676.8,220.2M682.8,203.7L679.7,220.5" stroke-width="0.8"/>
<path d="M708.7,195.7Q709.2,191.8 711.6,194.6Q713.8,191.0 715.5,194.3Q719.7,191.0 719.8,195.6Q724.4,194.2 724.7,199.2Q728.3,199.2 727.1,202.5Q731.7,202.9 728.0,206.0Q730.8,209.2 727.3,212.3Q727.8,217.7 724.9,218.0Q723.7,221.8 720.1,221.2Q719.8,225.3 716.2,221.5Q714.9,224.7 712.9,221.1Q711.2,223.3 709.5,220.3Q706.7,221.7 706.9,219.2Q702.9,221.1 704.5,217.6Q701.0,216.9 701.6,214.2Q697.8,212.8 699.6,210.2Q695.9,208.1 699.1,205.1Q695.4,202.7 700.9,201.1Q699.2,197.6 703.0,199.0Q704.2,194.6 708.7,195.7Z"/>
<path d="M650.0,226.3Q652.4,228.0 649.6,230.6Q652.6,234.5 648.0,235.9Q649.3,240.4 645.5,239.5Q645.4,244.6 641.5,242.3Q640.2,245.1 636.7,243.9Q633.8,248.3 631.5,244.6Q629.9,246.8 627.6,244.1Q625.1,245.9 623.1,241.9Q619.0,242.1 619.6,238.8Q615.9,239.5 617.2,236.2Q613.6,235.3 614.0,232.0Q608.9,230.4 612.6,228.1Q609.6,224.5 613.5,221.5Q611.6,217.3 616.2,217.4Q616.8,213.6 620.4,213.7Q620.8,210.0 624.4,211.4Q625.5,208.3 628.7,210.2Q630.0,207.4 632.2,210.1Q633.5,208.2 635.3,210.5Q638.2,207.7 641.3,211.8Q645.5,211.1 645.7,214.1Q649.3,214.1 648.8,218.1Q652.1,220.4 650.0,223.0Q652.2,224.6 650.0,226.3Z"/>
<path d="M576.7,260.3L574.8,261.3L573.4,259.8L571.4,261.4L570.1,259.2L568.2,260.8L566.9,258.5L564.9,259.3L563.7,257.6L561.7,258.3L560.5,256.6L558.7,257.7L557.3,255.5L555.6,254.2L556.4,252.3L554.6,251.1L555.6,249.2L553.6,247.7L555.1,245.9L553.3,244.6L554.7,242.7L553.2,241.4L554.5,239.4L554.6,236.8L556.8,236.2L556.6,233.7L559.2,233.2L559.5,230.8L562.0,230.4L562.1,228.0L564.9,227.8L566.9,226.3L568.7,227.6L570.7,226.0L572.6,227.7L574.6,226.1L576.4,228.1L578.4,227.4L580.2,228.8L582.1,229.9L581.9,231.8L584.3,232.9L583.5,234.8L585.2,235.6L585.0,237.9L587.1,239.1L586.3,241.0L588.4,241.9L587.5,244.2L589.4,245.5L588.7,247.5L588.9,249.8L586.6,250.3L586.6,253.0L584.3,253.0L584.5,255.6L581.9,255.6L581.4,257.7L579.4,258.0L579.1,259.8L576.7,260.3Z"/>
<path d="M574.3,244.3L576.7,260.3M574.3,244.3L557.3,255.5M574.3,244.3L554.5,239.4M574.3,244.3L564.9,227.8M574.3,244.3L580.2,228.8M574.3,244.3L588.7,247.5" stroke-width="1.2"/>
<path d="M574.3,244.3L571.0,260.5M574.3,244.3L571.7,260.5M574.3,244.3L564.8,259.3" stroke-width="0.8"/>
<path d="M215.0,355.3L214.3,352.8L216.1,351.7L215.7,349.1L217.4,348.2L216.8,346.1L219.1,344.8L219.0,342.6L221.1,341.6L222.2,339.4L224.2,340.1L225.3,338.3L227.3,338.7L228.3,336.9L230.5,337.5L231.6,335.3L233.8,336.4L234.9,334.7L237.1,335.6L238.1,333.8L240.4,334.8L243.0,335.1L243.0,336.9L245.3,336.9L245.5,339.1L247.4,338.9L248.0,341.4L249.9,341.4L250.3,343.7L252.2,343.6L252.6,346.2L254.7,346.2L254.7,348.7L256.8,348.9L256.8,351.3L258.3,353.4L256.5,355.0L257.4,357.1L256.1,358.6L256.8,360.7L255.3,362.1L256.0,364.0L254.3,365.6L254.7,367.7L253.2,369.0L252.4,371.3L249.9,371.1L249.0,373.2L246.6,373.1L245.8,375.5L243.2,374.8L241.9,376.4L239.6,376.3L238.6,377.8L236.0,377.6L233.8,378.5L232.6,377.1L230.6,378.2L229.3,376.3L227.4,377.2L226.2,375.1L224.3,376.2L223.1,373.6L221.1,372.9L221.4,370.7L219.6,369.9L219.8,367.7L217.3,366.8L218.4,364.7L216.9,363.7L217.1,361.7L215.1,360.6L216.0,358.5L214.1,357.3L215.0,355.3Z"/>
<path d="M236.8,358.8L215.0,355.3M236.8,358.8L221.1,341.6M236.8,358.8L240.4,334.8M236.8,358.8L256.8,351.3M236.8,358.8L253.2,369.0M236.8,358.8L236.0,377.6M236.8,358.8L223.1,373.6" stroke-width="1.2"/>
<path d="M236.8,358.8L229.2,375.2M236.8,358.8L237.1,376.3M236.8,358.8L227.2,374.4" stroke-width="0.8"/>
<path d="M292.2,355.6Q291.3,359.4 288.0,358.3Q286.8,361.5 284.4,359.9Q283.9,362.8 280.4,360.9Q278.7,364.4 274.8,360.9Q271.2,363.3 270.4,359.4Q266.3,360.9 265.3,356.2Q262.7,356.8 262.9,354.3Q259.4,353.8 259.9,351.0Q256.1,349.1 257.4,345.5Q254.4,343.6 257.3,340.5Q254.2,338.4 258.4,336.0Q256.8,333.2 259.4,333.1Q257.8,329.9 260.6,330.1Q258.4,326.0 262.4,326.7Q262.2,323.2 267.0,322.2Q267.5,317.6 273.0,320.3Q274.6,317.2 276.8,320.3Q280.2,318.6 283.0,321.8Q285.2,320.2 285.6,323.0Q289.1,321.6 289.5,326.1Q293.1,326.8 292.8,331.3Q295.5,331.3 294.2,334.7Q298.1,337.9 296.2,340.3Q300.1,344.2 297.1,345.7Q298.9,348.5 296.7,348.8Q298.5,352.8 294.9,352.7Q295.9,356.5 292.2,355.6Z"/>
<path d="M351.0,337.5L350.3,340.0L348.2,339.3L347.6,341.0L345.4,341.0L344.5,342.7L342.5,342.6L341.5,345.0L339.6,344.2L338.6,346.0L336.6,345.6L335.5,347.9L333.6,347.0L332.7,348.6L330.5,348.3L329.5,350.6L327.4,349.5L324.9,349.3L324.7,347.7L322.2,347.6L322.0,345.8L319.8,345.7L319.4,343.9L317.1,344.2L316.9,341.8L315.0,342.2L314.5,339.7L312.3,339.8L312.2,337.4L310.4,337.0L309.9,335.1L308.1,333.3L310.0,331.7L308.7,329.9L310.3,328.4L309.6,326.5L310.9,325.1L310.3,323.2L311.7,321.9L311.2,320.1L312.7,318.7L313.4,316.3L315.4,316.9L315.8,314.6L318.1,315.1L318.6,313.0L320.9,313.5L321.5,311.4L323.7,311.9L324.6,309.7L326.7,310.5L327.6,309.0L329.6,309.2L330.5,307.0L332.6,308.0L335.0,307.5L336.0,309.0L338.2,308.1L339.2,310.2L341.6,309.6L342.4,311.7L344.6,311.1L345.4,313.3L347.6,312.8L348.4,315.2L349.7,316.5L349.1,318.3L351.2,319.7L349.7,321.5L351.8,322.9L350.2,324.7L352.0,326.1L350.6,327.9L352.6,329.3L350.8,331.1L352.8,332.5L351.0,334.3L352.0,335.7L351.0,337.5Z"/>
<path d="M331.4,331.2L351.0,337.5M331.4,331.2L327.4,349.5M331.4,331.2L309.9,335.1M331.4,331.2L312.7,318.7M331.4,331.2L332.6,308.0M331.4,331.2L348.4,315.2" stroke-width="1.2"/>
<path d="M331.4,331.2L325.4,348.6M331.4,331.2L324.9,348.4M331.4,331.2L317.9,344.6" stroke-width="0.8"/>
<path d="M295.0,402.1Q292.3,404.8 288.6,402.3Q284.6,405.4 284.1,401.3Q280.8,404.3 280.5,399.3Q276.8,399.8 277.4,396.7Q272.8,397.0 274.3,392.6Q268.5,390.3 271.2,386.9Q267.8,385.8 269.8,380.9Q265.9,379.2 270.3,376.2Q268.7,373.3 272.1,372.2Q270.4,368.7 274.4,369.1Q273.1,365.2 276.5,366.6Q275.9,361.9 279.6,363.2Q278.5,359.5 281.9,361.0Q281.8,356.6 285.5,358.5Q287.2,354.7 290.1,357.0Q291.3,354.1 293.2,356.8Q295.4,354.3 297.6,357.5Q302.7,355.6 303.9,360.3Q308.3,358.4 306.9,362.5Q311.0,363.9 310.8,367.7Q314.4,368.7 312.1,372.0Q314.3,374.7 312.3,376.8Q316.2,377.6 312.1,380.3Q314.8,382.0 311.8,383.7Q314.7,386.3 311.3,388.6Q313.7,392.3 310.0,392.7Q311.4,398.3 306.1,397.9Q304.6,401.3 302.3,400.2Q301.8,403.2 298.3,401.5Q297.5,405.8 295.0,402.1Z"/>
<path d="M351.7,423.5L349.8,424.7L348.3,423.4L346.4,424.8L344.9,423.2L343.0,424.6L341.5,422.9L339.5,423.8L338.1,422.4L336.2,423.1L334.7,421.7L332.9,422.8L331.4,421.0L328.7,420.9L328.6,418.4L326.1,418.2L326.1,415.6L323.6,414.9L323.9,412.5L321.6,411.7L321.9,409.3L320.2,407.1L322.2,405.5L320.9,403.2L322.8,401.7L321.9,399.6L323.7,398.1L323.0,396.0L325.0,394.5L325.7,392.2L328.1,392.5L329.2,389.8L331.3,390.6L332.2,388.4L334.6,388.9L335.6,387.1L337.9,387.3L338.8,385.7L341.3,385.8L342.5,383.8L344.8,384.5L347.3,383.0L348.8,385.1L351.1,384.6L352.6,386.2L354.8,385.4L356.2,387.9L358.2,389.1L357.6,391.4L360.1,392.8L359.0,394.9L360.9,396.4L360.2,398.4L362.1,399.7L361.2,402.0L362.8,403.4L362.1,405.6L363.7,406.9L362.9,409.3L363.4,412.0L361.0,412.4L360.8,414.9L358.9,415.4L359.3,417.9L356.7,418.2L356.8,420.8L354.3,420.9L353.9,422.9L351.7,423.5Z"/>
<path d="M345.3,407.7L351.7,423.5M345.3,407.7L331.4,421.0M345.3,407.7L321.9,409.3M345.3,407.7L325.0,394.5M345.3,407.7L344.8,384.5M345.3,407.7L356.2,387.9M345.3,407.7L362.9,409.3" stroke-width="1.2"/>
<path d="M345.3,407.7L343.2,424.4M345.3,407.7L337.3,423.5M345.3,407.7L338.0,423.7" stroke-width="0.8"/>
<path d="M354.8,375.3L352.8,373.7L353.9,371.9L352.1,370.3L353.1,368.4L351.1,366.9L352.6,364.9L350.8,363.4L352.3,361.4L351.2,359.8L352.2,357.9L351.9,355.8L354.2,355.3L354.5,353.2L356.3,352.8L356.7,350.2L358.4,350.4L358.1,348.3L360.7,348.1L361.0,345.8L363.0,345.8L362.9,343.9L365.4,343.7L365.3,341.5L367.9,341.6L369.9,340.0L371.4,341.6L373.3,340.1L374.9,341.7L376.8,340.7L378.3,342.1L380.2,340.9L381.8,342.8L383.7,342.2L385.2,343.7L387.2,343.9L387.8,346.0L389.9,346.1L390.3,348.6L392.2,349.1L392.4,351.5L394.7,352.1L394.2,354.5L395.3,356.8L393.5,357.9L394.6,360.0L392.8,361.2L393.2,363.3L391.9,364.4L392.7,366.5L390.9,367.7L391.5,369.9L389.7,370.9L391.0,372.9L388.5,374.0L388.9,376.0L387.1,377.2L386.1,379.2L383.8,379.0L382.7,381.3L380.3,380.6L379.1,382.3L376.6,381.7L375.2,383.8L372.9,382.6L370.9,383.4L369.7,381.7L367.4,382.4L366.6,380.7L364.7,381.1L363.6,379.6L361.6,380.8L360.6,378.3L358.6,379.1L357.7,376.8L355.5,376.9L354.8,375.3Z"/>
<path d="M373.2,363.7L354.8,375.3M373.2,363.7L352.2,357.9M373.2,363.7L367.9,341.6M373.2,363.7L385.2,343.7M373.2,363.7L394.2,354.5M373.2,363.7L387.1,377.2M373.2,363.7L372.9,382.6" stroke-width="1.2"/>
<path d="M373.2,363.7L369.9,382.1M373.2,363.7L364.5,380.5M373.2,363.7L365.4,380.9" stroke-width="0.8"/>
<path d="M394.4,359.1Q390.4,358.5 392.8,356.1Q388.8,354.5 391.5,351.1Q388.6,349.8 391.6,347.8Q388.5,344.9 392.6,344.4Q390.7,341.6 395.7,339.6Q394.2,335.9 397.7,337.3Q398.9,332.4 402.2,333.2Q402.7,329.5 404.7,331.6Q405.7,327.8 410.4,330.0Q413.1,327.4 416.3,331.1Q421.3,329.2 421.2,333.8Q425.7,332.4 425.4,337.3Q428.4,336.8 427.6,339.9Q431.6,341.2 430.0,344.6Q434.5,345.8 431.0,350.2Q433.8,352.7 431.3,353.9Q434.1,358.5 430.8,359.8Q433.7,362.6 429.9,362.7Q431.5,367.8 426.3,367.5Q426.1,370.4 421.3,369.9Q421.2,373.6 418.4,370.4Q416.1,372.6 414.2,370.5Q412.9,374.6 410.0,370.2Q407.0,373.4 404.4,368.8Q399.7,370.0 400.2,366.2Q395.7,367.4 396.5,362.3Q392.7,362.5 394.4,359.1Z"/>
<path d="M468.4,296.2L469.2,298.5L467.3,299.3L468.3,301.3L466.0,302.3L466.8,304.6L464.7,305.3L465.8,307.5L463.2,308.2L463.7,310.5L461.7,311.1L462.2,312.9L460.0,313.9L460.4,315.9L458.2,316.7L456.4,318.5L454.9,316.7L453.1,317.6L451.6,316.7L449.8,318.4L448.3,316.6L446.6,318.2L445.0,316.4L443.2,317.4L441.7,316.1L439.9,317.0L438.4,315.7L436.7,316.9L435.1,315.2L433.4,316.9L431.9,314.7L429.0,313.8L429.7,311.4L427.9,310.5L427.9,308.1L425.7,306.9L426.4,304.5L424.9,303.3L425.2,300.9L424.8,298.3L426.8,297.7L426.1,295.1L428.5,294.5L428.5,292.4L430.2,291.4L429.8,289.0L432.0,288.3L431.9,286.1L433.9,285.3L433.3,283.2L435.9,282.4L435.4,280.4L438.0,279.5L438.3,277.2L440.1,276.6L442.0,275.3L443.4,277.0L445.4,275.6L446.6,277.6L448.6,276.2L449.8,278.2L451.8,277.0L453.0,279.0L454.9,277.8L456.1,279.9L458.1,279.3L459.3,280.9L461.1,280.0L462.4,282.0L465.1,283.2L464.4,285.3L466.8,286.4L466.1,288.8L468.3,289.8L467.4,292.4L469.4,293.9L468.4,296.2Z"/>
<path d="M448.2,300.5L468.4,296.2M448.2,300.5L458.2,316.7M448.2,300.5L431.9,314.7M448.2,300.5L425.2,300.9M448.2,300.5L440.1,276.6M448.2,300.5L462.4,282.0" stroke-width="1.2"/>
<path d="M448.2,300.5L449.8,318.2M448.2,300.5L440.8,317.4M448.2,300.5L439.4,316.9" stroke-width="0.8"/>
<path d="M421.5,395.4L419.5,394.2L420.2,392.2L418.1,391.0L418.9,389.0L416.5,387.8L417.8,385.7L415.6,384.6L416.8,382.4L414.6,381.2L415.9,379.1L414.6,377.9L415.1,375.7L413.0,374.4L414.4,372.3L414.0,369.9L416.6,369.0L416.3,366.5L419.0,365.9L419.0,363.6L421.7,363.0L422.2,360.9L424.7,360.4L426.6,359.4L428.3,360.5L430.2,358.6L431.9,360.7L433.8,358.9L435.4,361.0L437.4,359.4L439.0,361.4L441.0,360.0L442.5,362.0L444.4,361.1L446.0,362.7L448.0,362.1L449.6,363.4L451.2,364.8L450.5,366.9L452.8,368.4L451.4,370.3L453.5,371.8L452.1,373.8L454.3,375.3L452.7,377.3L454.5,378.9L453.2,380.9L455.2,382.4L453.6,384.4L455.3,386.0L453.9,388.0L453.6,390.7L451.5,390.3L450.9,392.6L449.0,392.6L448.8,394.9L446.5,394.7L446.3,396.8L443.8,396.7L443.6,398.9L441.0,398.5L440.8,400.2L438.1,400.3L436.1,401.2L434.7,399.7L432.4,400.3L431.3,399.0L429.3,400.2L428.0,398.0L425.8,398.5L424.7,396.8L422.7,397.7L421.5,395.4Z"/>
<path d="M436.3,381.9L421.5,395.4M436.3,381.9L414.4,372.3M436.3,381.9L424.7,360.4M436.3,381.9L449.6,363.4M436.3,381.9L453.9,388.0M436.3,381.9L438.1,400.3" stroke-width="1.2"/>
<path d="M436.3,381.9L429.9,399.0M436.3,381.9L429.8,398.9M436.3,381.9L433.1,399.3" stroke-width="0.8"/>
<path d="M595.3,306.8L597.0,304.7L598.8,306.1L600.5,304.4L602.4,305.6L604.0,303.5L605.9,305.2L607.6,303.2L609.5,305.0L611.2,303.7L613.1,305.0L614.7,304.0L616.6,305.1L619.5,305.4L619.2,307.9L621.9,308.4L621.6,310.6L623.8,311.4L623.9,313.5L626.1,313.9L626.1,316.5L627.9,317.3L628.1,319.6L630.1,320.4L630.1,322.7L631.2,325.0L629.3,326.0L629.8,328.0L628.4,329.3L629.5,331.4L627.2,332.4L627.7,334.4L625.8,335.4L625.9,337.4L624.2,338.4L623.2,340.0L621.0,339.8L619.8,341.4L617.8,341.0L616.6,342.5L614.5,342.1L613.3,343.8L611.2,343.0L610.1,345.3L607.9,343.8L606.5,345.5L604.5,344.4L602.3,344.5L601.6,342.5L599.0,342.5L598.7,340.5L596.7,340.7L596.0,338.4L593.5,338.7L593.4,336.1L591.5,336.2L591.0,333.7L588.5,333.1L588.5,331.2L587.3,328.9L589.2,327.6L587.9,325.3L589.9,324.0L589.2,321.8L590.8,320.5L590.1,318.5L591.7,317.0L591.3,314.9L592.8,313.6L592.2,311.5L594.0,310.2L593.3,308.1L595.3,306.8Z"/>
<path d="M606.6,325.9L595.3,306.8M606.6,325.9L616.6,305.1M606.6,325.9L630.1,322.7M606.6,325.9L624.2,338.4M606.6,325.9L604.5,344.4M606.6,325.9L588.5,331.2" stroke-width="1.2"/>
<path d="M606.6,325.9L604.4,344.0M606.6,325.9L603.2,343.8M606.6,325.9L597.5,341.4" stroke-width="0.8"/>
<path d="M678.1,306.9Q681.4,308.0 680.0,310.2Q684.0,310.8 681.5,314.6Q684.2,317.2 681.4,318.5Q682.6,321.5 679.7,322.4Q681.6,324.8 677.7,324.8Q678.1,328.6 674.3,327.8Q673.7,332.8 670.5,330.1Q669.6,334.1 667.2,331.2Q664.5,333.6 662.3,331.5Q657.4,334.4 655.9,330.2Q651.6,330.9 650.1,326.8Q645.9,325.6 647.9,322.7Q645.2,322.6 647.6,319.4Q643.9,317.1 648.2,314.9Q645.2,312.7 648.9,312.0Q647.7,309.2 650.6,307.8Q648.9,303.7 653.3,304.1Q652.2,300.0 656.5,301.8Q656.6,297.1 659.3,300.5Q660.6,297.3 663.7,299.3Q665.3,296.6 668.3,299.2Q671.4,297.9 674.1,302.1Q678.3,302.4 678.1,306.9Z"/>
<path d="M550.6,351.2Q551.5,356.0 548.0,355.9Q550.2,359.6 545.2,358.2Q543.2,362.2 539.5,360.6Q538.8,363.2 536.3,361.3Q533.8,364.0 532.0,362.0Q530.2,365.8 528.2,362.0Q525.1,364.8 522.8,360.6Q519.5,361.5 519.5,358.7Q513.5,359.0 514.7,354.3Q511.0,353.0 511.5,349.3Q507.1,348.0 510.6,346.3Q506.5,345.5 510.5,342.6Q507.2,340.5 512.0,338.2Q510.8,335.8 515.3,333.7Q514.3,330.6 518.5,330.4Q518.6,325.5 522.4,326.8Q522.3,322.8 525.4,324.9Q527.5,320.7 530.9,323.3Q532.5,319.7 534.2,323.3Q538.1,320.7 539.9,324.4Q544.1,322.9 544.7,326.5Q548.2,326.0 548.2,329.7Q553.4,330.7 550.6,334.1Q554.3,334.9 551.5,338.4Q555.7,339.2 551.7,342.1Q555.4,345.3 551.5,346.9Q553.1,350.0 550.6,351.2Z"/>
<path d="M556.7,390.3Q555.2,393.7 552.8,390.3Q550.3,393.2 547.6,390.0Q543.7,392.8 541.3,389.1Q536.5,390.9 535.7,385.9Q530.7,386.0 532.7,382.1Q528.4,381.1 531.1,378.2Q527.7,376.5 530.0,371.5Q526.9,368.3 531.3,364.8Q528.8,362.6 532.9,362.0Q533.1,357.9 537.4,357.5Q536.7,353.5 541.2,354.8Q541.3,350.1 544.6,352.6Q544.7,349.9 547.5,351.1Q550.3,347.1 553.0,349.7Q554.7,346.0 557.2,350.2Q561.5,347.6 562.2,352.6Q565.7,351.6 565.6,355.2Q569.2,355.8 568.9,358.5Q573.0,357.5 571.4,361.9Q574.9,363.4 573.5,368.3Q575.9,372.0 573.3,373.7Q576.3,377.0 571.4,379.6Q572.8,381.6 569.9,382.6Q570.6,385.4 566.9,386.4Q567.2,390.0 561.6,389.5Q560.6,392.6 556.7,390.3Z"/>
<path d="M670.3,337.7L672.7,338.7L671.8,340.9L674.2,342.1L673.2,344.2L675.0,345.6L674.5,347.6L676.2,348.9L675.6,351.0L677.4,352.4L676.5,354.4L678.0,355.6L677.4,357.9L677.5,360.5L675.4,361.3L675.6,363.9L672.9,364.4L672.8,366.7L669.9,367.1L668.7,368.6L666.8,368.3L665.6,369.9L663.5,369.3L662.3,371.1L660.3,370.1L659.0,371.8L656.9,370.6L655.6,372.1L653.6,371.1L651.3,371.0L650.3,369.1L648.2,369.1L647.2,366.8L645.1,366.9L644.4,364.3L642.2,363.8L641.7,361.6L640.2,360.2L640.9,358.3L638.6,357.0L640.2,355.1L638.9,353.5L639.8,351.7L638.2,350.2L639.6,348.4L637.9,346.9L639.5,345.0L639.9,342.5L642.2,342.9L642.9,340.6L645.0,340.8L645.8,338.3L647.9,338.7L648.6,336.7L650.8,336.8L651.6,334.9L653.8,335.0L654.7,332.8L656.8,333.3L657.7,331.6L659.9,331.6L662.4,330.8L663.6,333.1L666.3,332.4L667.1,335.1L669.5,335.1L670.3,337.7Z"/>
<path d="M657.9,351.4L670.3,337.7M657.9,351.4L677.4,357.9M657.9,351.4L669.9,367.1M657.9,351.4L653.6,371.1M657.9,351.4L641.7,361.6M657.9,351.4L639.5,345.0M657.9,351.4L659.9,331.6" stroke-width="1.2"/>
<path d="M657.9,351.4L650.6,368.9M657.9,351.4L652.8,369.7M657.9,351.4L657.5,370.4" stroke-width="0.8"/>
<path d="M675.3,359.2L674.8,356.9L676.3,356.0L675.1,353.8L677.4,352.8L677.2,350.6L678.7,349.7L678.6,347.5L680.2,346.6L679.2,344.5L681.7,343.6L681.4,341.6L683.4,340.7L685.0,338.4L687.0,339.4L688.5,337.2L690.6,338.5L692.3,336.3L694.4,337.9L695.9,336.2L698.2,337.6L700.7,337.6L701.1,339.6L703.7,339.5L704.0,341.8L706.3,342.0L706.8,344.0L709.0,343.8L709.5,346.4L711.9,346.6L712.0,348.9L714.5,349.1L714.6,351.5L715.6,353.6L713.8,355.0L715.2,357.4L712.9,358.6L713.9,360.7L711.7,362.0L712.1,364.1L710.3,365.4L711.3,367.6L708.8,368.7L707.6,370.5L705.5,370.1L704.4,372.5L702.2,371.5L701.1,373.4L698.8,372.6L697.7,374.6L695.4,373.6L694.2,375.0L691.9,374.5L690.6,376.6L688.4,375.3L685.9,375.3L686.0,372.8L683.6,372.4L683.6,370.3L681.1,370.2L681.3,367.7L679.0,367.4L679.2,365.0L677.4,364.1L677.2,362.1L675.3,361.5L675.3,359.2Z"/>
<path d="M697.6,356.3L675.3,359.2M697.6,356.3L683.4,340.7M697.6,356.3L698.2,337.6M697.6,356.3L714.6,351.5M697.6,356.3L708.8,368.7M697.6,356.3L688.4,375.3" stroke-width="1.2"/>
<path d="M697.6,356.3L700.5,373.6M697.6,356.3L688.4,373.2M697.6,356.3L698.1,374.2" stroke-width="0.8"/>
<path d="M620.8,390.8Q616.6,391.2 616.3,388.6Q613.1,389.0 613.2,385.5Q608.8,385.0 611.6,382.0Q606.8,378.7 610.7,375.8Q607.5,373.8 610.7,373.1Q607.5,368.6 611.6,367.9Q609.9,362.0 614.4,362.9Q614.4,358.6 618.8,359.2Q620.4,354.2 623.3,356.9Q625.8,352.5 629.9,355.8Q632.5,354.2 635.6,358.1Q640.5,357.5 639.2,362.1Q641.4,361.7 640.8,364.5Q645.3,365.2 643.8,369.4Q646.8,370.8 645.1,372.4Q648.9,373.5 645.7,375.7Q648.8,377.9 645.5,379.6Q647.7,384.1 643.9,384.2Q645.8,387.7 641.8,387.8Q641.5,392.2 638.4,391.1Q638.5,395.3 634.6,392.9Q633.4,397.1 630.7,393.2Q626.8,396.8 625.2,392.2Q622.5,393.6 620.8,390.8Z"/>
<path d="M531.4,407.5L533.5,408.7L533.0,410.6L535.1,411.5L534.3,413.7L536.6,414.8L535.5,416.9L537.0,417.9L536.4,420.2L538.4,421.5L537.1,423.5L537.3,426.3L534.8,426.3L534.6,428.6L532.4,429.1L532.3,431.8L529.9,431.7L529.4,433.8L527.2,434.2L526.8,436.6L524.5,436.5L523.8,438.8L521.6,438.8L519.7,440.3L518.3,438.6L516.4,440.3L514.9,438.2L512.9,439.4L511.6,437.7L509.6,438.4L508.3,437.0L506.3,438.0L505.0,436.1L503.0,437.4L501.7,435.1L500.0,433.6L500.9,431.6L499.4,430.0L500.1,428.1L498.3,426.6L499.5,424.6L497.3,423.1L498.9,421.0L497.3,419.5L498.5,417.5L496.9,415.8L498.2,413.9L496.5,412.3L498.0,410.3L498.6,407.7L500.7,407.7L501.4,405.5L503.6,405.3L504.3,403.0L506.6,403.1L507.3,401.3L509.7,401.1L510.8,399.1L513.0,399.2L515.3,398.1L516.2,400.3L518.3,399.7L519.4,401.4L521.5,401.0L522.5,402.7L524.7,401.7L525.5,404.2L527.5,403.6L528.5,405.8L530.7,405.1L531.4,407.5Z"/>
<path d="M518.3,422.6L531.4,407.5M518.3,422.6L537.1,423.5M518.3,422.6L521.6,438.8M518.3,422.6L501.7,435.1M518.3,422.6L498.0,410.3M518.3,422.6L513.0,399.2" stroke-width="1.2"/>
<path d="M518.3,422.6L508.9,438.1M518.3,422.6L507.8,437.6M518.3,422.6L519.4,439.1" stroke-width="0.8"/>
<path d="M315.4,497.8Q320.4,499.6 317.2,503.4Q319.6,506.8 316.6,509.0Q318.3,510.9 314.9,512.1Q314.9,515.3 311.6,515.3Q312.5,519.7 307.5,518.1Q306.1,522.1 302.0,520.9Q300.0,524.2 298.1,521.6Q295.7,524.4 292.5,521.0Q288.9,523.9 288.9,519.7Q285.5,520.3 285.6,518.0Q281.6,519.4 282.8,515.5Q278.1,514.4 280.5,511.4Q277.3,509.5 280.3,505.9Q278.1,503.8 281.3,502.0Q278.6,499.3 282.4,498.9Q279.1,496.2 283.7,495.7Q282.3,492.3 285.1,493.0Q283.6,488.9 287.3,490.3Q286.7,486.4 290.6,488.1Q291.5,483.3 295.0,486.6Q295.9,483.5 298.4,486.1Q301.8,483.9 303.1,486.3Q305.7,483.0 307.4,487.7Q311.8,487.5 312.3,492.2Q316.4,493.0 315.4,497.8Z"/>
<path d="M285.9,524.3Q290.7,525.4 288.2,529.2Q292.7,531.7 288.8,533.9Q291.9,536.9 288.5,538.0Q289.8,541.4 287.1,542.0Q288.7,545.1 284.1,545.9Q283.6,551.0 279.8,549.3Q280.1,552.5 276.7,551.2Q275.1,556.0 272.8,552.6Q269.5,556.1 268.5,552.6Q266.7,554.2 264.7,551.0Q261.9,552.0 259.8,547.3Q255.1,547.7 256.5,543.9Q253.6,543.7 254.5,540.5Q251.5,538.7 253.6,536.4Q250.8,531.6 254.8,530.5Q253.3,527.1 256.4,527.4Q255.4,523.6 259.8,523.2Q259.0,520.6 262.1,521.6Q262.5,517.0 265.3,520.5Q265.3,516.9 268.2,520.1Q269.9,517.6 273.5,519.9Q276.1,517.2 276.7,519.9Q279.5,518.2 280.4,520.5Q283.3,517.9 283.3,521.8Q287.2,521.2 285.9,524.3Z"/>
<path d="M231.8,571.3L231.4,568.9L232.7,567.8L231.6,565.6L233.7,564.4L233.5,562.1L235.0,561.0L234.4,558.8L236.5,557.8L235.8,555.6L238.1,554.6L239.3,552.0L241.3,553.2L242.4,550.8L244.6,552.1L245.8,550.4L247.9,551.1L249.2,549.6L251.3,550.4L252.5,548.4L254.8,549.8L257.2,549.3L257.5,551.6L260.1,551.2L260.1,553.4L262.2,553.0L262.7,555.4L264.7,555.2L265.1,557.5L267.0,557.1L267.5,559.7L269.6,559.9L269.8,562.0L271.3,563.9L269.2,565.2L270.7,567.3L268.5,568.4L269.1,570.5L267.7,571.6L268.7,573.7L266.8,574.8L267.8,576.7L265.8,577.9L267.1,579.7L264.6,581.0L265.7,582.8L263.5,584.1L261.8,585.6L259.8,585.1L258.2,586.9L256.0,585.9L254.4,587.4L252.3,586.5L250.7,588.3L248.5,586.8L246.7,588.4L244.7,587.0L242.2,586.6L242.3,584.6L239.8,584.2L240.0,582.2L237.8,582.1L237.7,579.6L235.2,579.5L235.7,576.9L233.6,576.5L233.7,574.1L231.4,573.8L231.8,571.3Z"/>
<path d="M252.7,571.7L231.8,571.3M252.7,571.7L238.1,554.6M252.7,571.7L254.8,549.8M252.7,571.7L269.8,562.0M252.7,571.7L263.5,584.1M252.7,571.7L244.7,587.0" stroke-width="1.2"/>
<path d="M252.7,571.7L242.9,584.5M252.7,571.7L248.7,586.6M252.7,571.7L253.2,586.9" stroke-width="0.8"/>
<path d="M335.4,512.0L337.3,512.0L337.7,514.3L340.2,514.8L339.9,516.7L342.2,516.7L342.1,519.1L344.0,519.5L344.2,521.6L346.7,521.8L346.3,524.1L348.8,524.4L348.2,526.8L350.5,527.1L350.1,529.4L352.4,530.0L351.9,532.1L352.1,534.7L350.4,535.4L350.6,538.0L348.8,538.6L349.0,540.8L347.2,541.8L347.1,543.9L345.4,544.9L346.1,547.0L343.4,547.9L344.1,549.9L341.4,550.9L341.5,553.1L339.3,553.8L337.6,555.2L335.8,554.3L334.0,555.9L332.2,554.7L330.5,555.8L328.7,554.9L326.9,556.5L325.1,554.9L323.4,556.3L321.6,554.7L319.8,555.8L318.0,554.4L315.7,553.5L316.0,551.6L313.9,551.1L314.1,548.7L311.5,548.1L312.2,545.7L310.1,545.2L310.5,542.7L308.4,541.6L309.0,539.6L307.0,539.0L307.5,536.4L305.7,535.5L306.1,533.2L305.8,531.0L307.3,530.0L307.1,527.5L308.7,526.9L308.2,524.8L310.3,523.9L310.1,521.7L312.2,521.1L312.2,518.8L314.2,518.3L315.5,516.2L317.6,516.9L318.8,514.8L321.1,515.5L322.4,513.3L324.6,514.4L325.8,512.3L328.1,513.4L329.5,511.2L331.7,512.6L333.2,510.4L335.4,512.0Z"/>
<path d="M330.8,534.3L335.4,512.0M330.8,534.3L351.9,532.1M330.8,534.3L339.3,553.8M330.8,534.3L318.0,554.4M330.8,534.3L306.1,533.2M330.8,534.3L314.2,518.3" stroke-width="1.2"/>
<path d="M330.8,534.3L331.2,555.6M330.8,534.3L329.7,555.7M330.8,534.3L323.5,555.1" stroke-width="0.8"/>
<path d="M404.2,457.5Q405.8,453.8 407.1,456.8Q409.1,452.6 411.8,456.6Q414.5,454.7 416.8,458.5Q421.8,458.5 420.9,462.6Q425.6,462.4 422.7,465.9Q426.2,467.3 423.7,469.0Q425.8,471.0 423.6,472.9Q426.6,474.9 422.4,475.9Q424.8,479.3 420.6,478.7Q421.8,482.2 417.8,482.3Q419.3,486.6 414.4,486.1Q414.0,488.7 410.9,487.9Q407.4,491.3 404.3,487.9Q402.0,490.1 401.2,486.7Q398.6,488.5 397.9,484.6Q392.9,485.2 394.3,479.5Q390.8,478.7 393.4,474.3Q391.1,472.8 393.5,469.8Q389.9,467.5 394.0,465.9Q392.9,461.7 396.6,461.2Q397.2,457.9 400.7,458.6Q401.7,455.0 404.2,457.5Z"/>
<path d="M395.9,532.2Q396.5,528.2 398.7,532.5Q403.2,530.1 404.6,533.6Q407.7,531.0 408.4,534.8Q413.9,532.8 413.4,537.5Q418.9,537.8 417.4,541.8Q421.9,541.9 420.0,546.3Q422.5,547.1 421.6,550.6Q425.4,553.5 422.4,555.5Q424.8,557.4 422.3,558.8Q423.9,562.2 419.3,565.2Q418.9,569.1 413.8,569.4Q414.0,572.1 411.0,570.7Q409.3,575.3 405.3,573.0Q404.2,575.7 401.9,574.1Q401.0,577.5 399.1,574.6Q396.3,577.6 392.9,574.3Q390.2,577.1 389.5,573.1Q386.9,574.1 386.2,571.3Q382.1,573.2 381.6,567.7Q378.4,567.6 377.9,563.0Q374.9,562.2 376.5,558.9Q373.0,558.0 376.2,555.6Q373.0,553.2 377.3,549.8Q375.9,547.2 378.4,546.9Q376.5,542.9 380.8,541.6Q380.4,538.2 383.3,537.8Q382.1,533.3 387.5,534.1Q388.1,531.4 390.8,532.8Q391.4,529.1 395.9,532.2Z"/>
<path d="M456.7,512.0L457.1,509.5L459.6,509.1L460.0,506.7L462.8,506.7L464.1,504.9L466.4,504.8L468.8,503.7L469.7,506.0L472.1,505.7L473.1,507.3L475.5,506.4L476.3,508.6L478.4,508.1L479.5,510.1L481.8,510.0L482.7,511.7L484.6,511.3L485.8,513.3L488.1,512.4L488.9,515.1L490.1,517.0L488.8,518.5L490.6,520.4L488.7,521.8L490.1,523.7L488.4,525.2L489.8,527.1L488.0,528.6L489.2,530.4L487.4,531.9L488.5,533.7L486.7,535.2L486.1,537.5L484.0,537.7L483.5,540.1L481.3,539.9L480.4,541.9L478.2,541.8L477.5,543.9L475.1,543.5L472.8,544.5L471.7,542.5L469.6,543.3L468.3,541.4L466.2,542.4L465.0,540.1L462.7,541.1L461.8,538.7L459.6,539.0L458.6,537.1L456.3,537.7L455.5,535.5L454.1,533.7L455.3,532.1L454.0,530.3L455.3,528.7L453.5,527.0L455.3,525.4L453.7,523.6L455.5,522.0L454.2,520.3L455.8,518.7L454.8,516.9L456.2,515.3L454.7,513.5L456.7,512.0Z"/>
<path d="M470.3,524.2L456.7,512.0M470.3,524.2L466.4,504.8M470.3,524.2L488.9,515.1M470.3,524.2L486.7,535.2M470.3,524.2L475.1,543.5M470.3,524.2L455.5,535.5" stroke-width="1.2"/>
<path d="M470.3,524.2L462.2,540.2M470.3,524.2L461.9,540.0M470.3,524.2L462.4,540.3" stroke-width="0.8"/>
<path d="M458.2,588.7L455.8,589.2L455.3,587.2L453.1,587.5L452.3,585.7L450.2,586.4L449.5,584.1L447.1,584.9L446.7,582.5L444.3,582.8L443.9,580.7L441.8,580.9L441.2,578.9L438.8,578.9L438.5,577.0L436.7,577.0L435.9,575.0L433.9,573.2L435.8,571.7L434.4,569.9L435.7,568.4L433.8,566.6L435.8,565.0L434.8,563.3L436.1,561.8L435.1,560.0L436.6,558.5L435.0,556.7L437.2,555.2L438.2,553.0L440.2,553.7L441.2,552.1L443.1,552.3L444.1,550.3L446.1,550.9L447.2,549.0L449.1,549.5L449.9,547.7L452.1,548.3L453.0,546.2L455.2,547.1L456.3,545.7L458.3,546.0L459.2,544.1L461.4,545.0L462.5,543.5L464.6,544.0L467.3,543.8L467.4,546.3L469.7,546.4L470.2,548.7L472.6,549.2L472.7,551.4L474.6,551.9L475.1,554.2L477.4,554.5L477.3,557.1L478.7,559.0L477.2,560.5L478.3,562.4L477.0,563.9L478.2,565.8L476.7,567.3L478.4,569.2L476.3,570.7L478.0,572.5L475.7,574.1L477.2,575.9L475.0,577.4L476.1,579.2L474.2,580.7L473.1,583.3L471.2,582.7L470.5,584.7L468.1,584.6L467.3,586.7L464.9,586.1L464.2,587.7L461.6,587.5L460.5,589.1L458.2,588.7Z"/>
<path d="M458.9,568.2L458.2,588.7M458.9,568.2L435.9,575.0M458.9,568.2L437.2,555.2M458.9,568.2L464.6,544.0M458.9,568.2L477.3,557.1M458.9,568.2L474.2,580.7" stroke-width="1.2"/>
<path d="M458.9,568.2L447.6,584.2M458.9,568.2L449.8,585.1M458.9,568.2L444.4,582.2" stroke-width="0.8"/>
<path d="M525.9,553.5Q525.1,558.2 521.3,558.4Q521.7,561.8 518.3,559.8Q516.2,563.0 513.7,560.5Q512.5,563.2 510.2,560.4Q509.0,564.3 507.5,560.0Q506.1,562.7 504.6,559.5Q501.9,562.5 501.7,558.9Q498.6,561.0 497.8,557.6Q493.8,558.2 494.1,555.3Q489.5,554.9 490.8,551.8Q487.0,550.9 488.8,548.3Q486.0,546.8 487.0,542.9Q482.5,539.9 486.6,537.8Q484.0,533.4 488.9,531.2Q487.1,528.7 491.3,528.5Q491.7,525.3 495.3,525.8Q494.8,522.1 499.3,523.7Q499.0,520.0 502.8,522.0Q504.0,517.9 508.3,520.1Q509.9,516.7 511.9,519.8Q514.8,517.0 517.8,521.4Q521.3,519.9 521.4,523.5Q524.2,522.8 524.5,526.1Q529.2,526.1 527.9,530.1Q532.5,531.7 530.0,534.8Q533.5,535.7 530.5,538.8Q533.3,540.8 530.2,542.0Q532.4,546.6 528.4,548.2Q529.8,552.1 525.9,553.5Z"/>
<path d="M559.7,515.9Q562.1,517.3 560.2,520.7Q563.4,522.2 559.8,523.5Q561.1,526.9 557.4,529.1Q556.5,534.6 553.3,534.2Q551.5,540.1 548.2,537.1Q546.8,541.5 544.1,537.3Q541.0,540.3 538.3,534.8Q534.7,537.2 535.6,532.9Q531.6,534.3 531.4,529.2Q527.6,527.8 528.8,525.5Q525.2,525.1 527.9,522.9Q523.6,521.2 527.5,516.9Q524.3,514.0 528.2,512.6Q526.0,508.0 530.9,507.3Q532.3,502.9 535.3,504.1Q537.1,500.6 539.9,502.6Q541.8,498.4 545.8,501.8Q548.2,498.4 549.5,502.1Q552.9,500.7 555.0,505.3Q559.0,503.8 557.3,508.7Q560.5,508.3 558.4,511.3Q561.2,513.5 559.7,515.9Z"/>
<path d="M586.0,550.1L583.4,548.8L584.5,546.8L582.6,545.4L583.1,543.4L581.3,542.2L581.9,540.0L579.6,538.6L580.9,536.5L578.7,535.3L580.0,533.0L578.4,531.7L579.2,529.4L579.7,527.1L581.5,527.1L581.7,524.5L583.8,524.8L583.9,522.9L586.2,522.7L586.3,520.8L588.6,520.6L588.6,518.5L591.2,518.6L591.6,516.3L593.8,516.8L594.1,514.8L596.5,515.0L598.7,514.0L600.3,515.2L602.4,513.5L604.2,515.5L606.3,514.2L607.9,516.2L610.0,515.4L611.7,517.1L613.7,515.9L615.4,518.1L618.3,519.1L618.1,521.2L620.5,522.3L620.2,524.7L622.4,525.8L621.8,528.5L622.5,530.7L621.2,531.8L622.6,533.9L620.4,535.2L621.8,537.3L619.6,538.4L620.1,540.5L618.6,541.7L619.9,543.9L617.5,544.9L618.5,546.9L616.3,548.1L617.6,550.0L615.1,551.2L613.9,553.2L611.7,553.2L610.6,555.9L608.1,554.9L606.7,556.8L604.4,556.2L603.0,558.4L600.6,557.3L598.3,557.6L597.5,556.2L595.3,557.4L594.4,555.0L592.5,555.4L591.5,553.6L589.6,554.4L588.7,551.9L586.8,552.0L586.0,550.1Z"/>
<path d="M598.9,539.3L586.0,550.1M598.9,539.3L579.2,529.4M598.9,539.3L596.5,515.0M598.9,539.3L615.4,518.1M598.9,539.3L621.8,528.5M598.9,539.3L615.1,551.2M598.9,539.3L600.6,557.3" stroke-width="1.2"/>
<path d="M598.9,539.3L602.4,555.8M598.9,539.3L593.5,554.4M598.9,539.3L600.0,555.8" stroke-width="0.8"/>
<path d="M639.9,446.2L641.9,447.2L641.4,449.4L643.8,450.4L642.9,452.6L645.1,453.7L644.2,455.9L646.2,456.9L645.4,459.2L647.1,460.3L646.5,462.6L648.7,463.7L647.4,466.0L647.1,468.2L645.2,469.1L644.8,471.9L642.7,472.0L642.8,474.7L640.0,474.7L639.6,476.7L637.1,477.2L635.0,479.0L633.5,477.0L631.5,477.8L630.0,476.7L628.0,477.9L626.4,476.2L624.5,476.9L622.9,475.4L620.9,476.8L619.5,474.5L617.3,473.7L617.6,471.4L615.0,470.3L615.9,468.2L614.0,466.9L614.6,464.9L612.9,463.7L613.4,461.4L612.9,459.0L615.1,458.1L615.1,455.9L617.0,454.8L617.1,452.7L619.0,451.7L619.2,449.5L621.2,448.7L620.8,446.3L623.5,445.7L625.1,444.6L626.8,445.5L628.4,443.4L630.0,445.3L631.7,443.6L633.3,445.4L635.0,443.9L636.6,445.8L638.3,444.4L639.9,446.2Z"/>
<path d="M633.1,464.0L639.9,446.2M633.1,464.0L647.4,466.0M633.1,464.0L637.1,477.2M633.1,464.0L619.5,474.5M633.1,464.0L613.4,461.4M633.1,464.0L623.5,445.7" stroke-width="1.2"/>
<path d="M633.1,464.0L630.4,477.5M633.1,464.0L630.2,477.5M633.1,464.0L630.7,477.5" stroke-width="0.8"/>
<path d="M642.1,506.4Q642.6,511.5 639.1,509.8Q637.8,514.7 634.5,513.1Q632.2,516.0 630.2,513.9Q627.5,516.5 625.4,512.9Q621.1,515.2 621.0,510.7Q616.4,510.7 616.7,506.9Q614.1,507.0 614.4,502.8Q610.7,501.0 613.3,498.0Q609.3,496.3 612.9,494.5Q609.5,491.8 613.1,488.1Q611.7,484.3 614.4,484.8Q613.9,480.8 617.6,481.6Q619.9,477.6 622.7,479.7Q624.9,476.1 626.9,479.2Q629.8,476.0 631.8,479.5Q633.5,477.1 635.0,480.5Q637.4,479.2 637.8,482.1Q640.9,480.4 640.5,484.6Q646.1,485.4 644.0,489.1Q647.9,489.0 645.5,491.9Q649.0,492.2 646.3,494.7Q649.4,496.1 646.3,497.9Q648.7,501.5 644.6,502.7Q646.5,505.5 642.1,506.4Z"/>
<path d="M629.1,535.0Q626.8,530.5 629.9,529.0Q628.7,525.8 631.7,525.4Q630.5,522.0 634.6,522.6Q634.4,518.1 637.9,520.8Q640.0,517.0 643.6,518.9Q645.7,516.0 648.0,518.1Q651.7,514.7 652.8,518.1Q656.3,516.2 657.5,519.4Q660.4,517.6 660.7,521.1Q663.8,519.8 664.2,523.7Q668.3,523.2 667.6,527.1Q671.8,527.6 670.5,533.2Q672.7,536.9 669.9,539.6Q670.6,543.1 666.9,544.8Q668.1,547.1 664.9,547.3Q665.7,552.1 661.8,550.7Q662.8,554.0 659.6,552.8Q657.6,558.0 654.7,555.6Q654.7,559.7 652.0,556.3Q651.0,559.6 648.4,556.6Q644.4,558.5 643.1,556.0Q639.8,558.4 639.1,554.8Q634.2,556.7 634.4,551.9Q630.4,550.6 630.9,546.5Q626.2,545.3 629.8,542.3Q625.5,541.7 629.3,538.9Q627.0,537.4 629.1,535.0Z"/>
<path d="M632.8,556.5Q636.2,557.2 635.2,560.3Q639.9,562.3 636.1,565.5Q638.6,568.0 634.9,571.2Q636.0,574.3 633.6,574.2Q634.4,579.8 629.6,579.4Q629.3,582.9 625.7,581.6Q625.0,584.4 622.0,582.5Q620.9,586.1 617.0,582.7Q614.2,585.7 612.5,582.3Q609.9,583.7 608.3,580.7Q603.0,581.1 604.4,577.0Q601.7,577.5 603.0,574.2Q599.6,573.3 601.7,570.1Q598.4,569.1 600.9,566.8Q597.3,564.9 600.4,563.9Q596.8,561.5 600.5,558.9Q598.9,556.2 601.4,556.0Q600.6,550.7 605.1,551.0Q605.4,547.5 610.0,547.6Q610.8,543.6 615.1,546.2Q618.4,543.7 620.5,547.0Q622.7,544.8 624.8,549.6Q629.9,548.8 629.2,553.2Q632.6,553.4 632.8,556.5Z"/>
<path d="M661.6,572.4L660.0,570.4L661.7,568.8L660.5,566.9L661.9,565.3L660.1,563.4L662.2,561.8L661.1,560.0L662.6,558.4L661.9,556.5L663.2,554.9L662.2,552.9L663.9,551.4L662.6,549.5L664.6,548.0L665.7,545.9L667.7,546.7L668.8,545.2L670.8,545.5L672.0,543.8L674.0,544.5L675.1,543.1L677.2,543.6L678.4,542.0L680.4,542.9L681.6,541.3L683.7,542.3L685.7,542.3L686.3,544.6L688.8,544.7L688.8,547.0L690.8,547.1L691.2,549.4L693.8,549.3L693.6,551.9L696.0,552.6L695.8,554.6L698.3,554.8L698.0,557.3L699.9,557.3L700.1,560.0L701.6,562.1L699.6,563.2L700.4,565.2L699.0,566.3L699.8,568.2L698.1,569.4L699.2,571.4L696.9,572.4L697.5,574.3L695.6,575.4L694.4,577.4L692.4,576.5L691.2,578.5L689.1,577.5L688.0,578.9L685.9,578.4L684.5,580.3L682.6,579.2L681.3,581.5L679.2,579.9L677.9,581.6L675.9,580.5L674.5,582.2L672.5,581.0L669.9,581.6L669.4,579.2L667.4,579.2L666.6,577.2L664.1,576.9L664.0,574.9L661.7,574.4L661.6,572.4Z"/>
<path d="M681.9,565.0L661.6,572.4M681.9,565.0L664.6,548.0M681.9,565.0L683.7,542.3M681.9,565.0L700.1,560.0M681.9,565.0L695.6,575.4M681.9,565.0L672.5,581.0" stroke-width="1.2"/>
<path d="M681.9,565.0L679.3,581.4M681.9,565.0L681.4,581.3M681.9,565.0L675.0,580.7" stroke-width="0.8"/>
<path d="M188.9,693.9Q187.1,691.0 191.0,688.1Q190.8,683.7 194.4,683.7Q194.2,679.4 199.6,679.8Q200.4,675.4 203.2,678.6Q206.4,676.2 208.1,678.8Q210.5,675.5 212.2,680.2Q216.5,677.7 215.9,682.0Q219.0,681.0 220.7,685.5Q225.5,685.3 222.9,688.5Q226.1,690.8 224.2,693.4Q227.6,696.6 223.3,699.2Q225.4,704.5 221.1,704.8Q222.5,707.8 219.7,707.2Q221.8,711.1 217.4,710.0Q217.2,714.6 213.7,712.6Q211.8,717.7 207.9,714.9Q206.6,717.9 204.4,715.7Q201.5,718.9 198.0,714.9Q193.2,716.6 194.1,712.3Q190.5,711.5 191.4,707.8Q187.6,707.4 189.6,701.8Q185.6,700.8 189.0,699.0Q186.1,697.3 188.9,693.9Z"/>
<path d="M270.7,682.7L271.9,684.6L271.2,686.5L273.0,688.4L271.5,690.3L272.9,692.2L271.6,694.2L273.1,696.0L271.4,698.0L272.5,699.9L271.1,701.8L270.2,704.6L267.9,704.3L267.3,706.2L264.7,706.5L263.7,708.5L261.2,708.3L260.0,710.3L257.6,709.9L255.8,711.1L254.2,710.1L252.3,711.9L250.7,710.1L248.9,711.6L247.3,709.9L245.6,710.7L243.9,709.4L242.2,710.5L240.6,708.8L238.2,708.0L238.2,705.8L235.9,704.8L236.0,702.6L233.6,701.8L234.2,699.3L232.2,698.1L232.7,695.8L232.1,693.6L233.3,692.5L231.9,690.3L234.1,689.3L233.3,687.2L235.0,686.1L234.1,684.0L236.1,682.9L235.7,681.0L237.3,679.8L236.9,677.9L238.6,676.8L239.9,674.6L242.0,674.8L243.1,672.7L245.6,673.0L246.6,670.7L249.3,671.6L250.5,669.6L253.1,670.5L255.5,670.5L256.2,672.2L258.4,672.0L259.3,674.1L261.3,673.7L262.3,676.0L264.8,676.1L265.2,678.1L267.4,678.1L268.0,680.4L270.4,680.0L270.7,682.7Z"/>
<path d="M253.1,690.1L270.7,682.7M253.1,690.1L271.1,701.8M253.1,690.1L257.6,709.9M253.1,690.1L240.6,708.8M253.1,690.1L232.7,695.8M253.1,690.1L238.6,676.8M253.1,690.1L253.1,670.5" stroke-width="1.2"/>
<path d="M253.1,690.1L240.6,706.4M253.1,690.1L241.0,706.6M253.1,690.1L241.1,706.7" stroke-width="0.8"/>
<path d="M294.7,731.2L293.8,733.4L291.6,733.0L290.8,735.1L288.5,734.6L287.3,736.5L285.1,735.8L283.9,738.1L281.7,736.7L279.4,737.4L278.5,735.4L276.3,735.8L275.4,734.0L273.2,734.5L272.3,732.5L270.1,733.4L269.3,730.7L267.1,730.8L266.4,728.9L264.5,728.9L263.5,727.0L262.0,725.3L263.2,723.8L261.2,722.1L263.0,720.5L261.2,718.9L262.9,717.3L261.5,715.7L263.0,714.1L262.2,712.4L263.3,710.8L261.9,709.2L263.7,707.6L264.4,705.0L266.5,705.8L267.0,703.8L269.3,704.0L270.3,701.8L272.2,702.4L272.9,700.6L275.2,700.9L276.2,698.9L278.2,699.6L279.3,697.4L281.3,698.3L283.8,698.2L284.4,700.1L286.7,700.1L287.4,702.0L289.5,702.1L290.4,704.1L292.8,704.0L293.2,706.2L295.6,706.3L295.9,708.5L298.3,708.4L298.6,710.9L300.1,712.9L298.3,714.3L299.6,716.3L297.9,717.8L299.5,719.8L297.3,721.2L298.4,723.2L296.6,724.5L297.1,726.5L295.7,727.9L296.3,729.9L294.7,731.2Z"/>
<path d="M278.2,718.2L294.7,731.2M278.2,718.2L281.7,736.7M278.2,718.2L263.5,727.0M278.2,718.2L263.7,707.6M278.2,718.2L281.3,698.3M278.2,718.2L298.6,710.9" stroke-width="1.2"/>
<path d="M278.2,718.2L269.1,731.9M278.2,718.2L269.8,732.3M278.2,718.2L274.6,734.6" stroke-width="0.8"/>
<path d="M304.8,703.3Q302.5,707.6 300.6,704.2Q296.2,706.8 294.7,703.1Q291.3,705.2 290.6,699.9Q286.4,699.4 287.5,694.8Q283.4,694.3 285.4,689.0Q282.3,687.9 284.6,685.2Q282.4,682.3 285.1,679.2Q282.2,676.6 286.0,676.6Q285.5,672.2 288.6,671.4Q288.1,668.4 290.3,669.1Q290.1,665.9 294.1,665.8Q295.3,662.4 298.2,664.3Q302.0,661.7 304.1,664.6Q306.3,661.1 307.8,665.9Q311.1,663.3 311.0,667.3Q314.8,665.6 315.8,670.2Q321.5,670.1 319.1,673.8Q322.0,675.1 320.9,679.0Q323.7,680.3 321.0,683.5Q323.8,685.6 320.8,686.3Q322.0,690.3 319.5,691.5Q321.4,693.7 317.9,694.6Q319.8,698.6 314.9,697.9Q315.7,700.4 312.7,699.4Q313.1,702.5 309.6,701.2Q308.4,704.4 304.8,703.3Z"/>
<path d="M382.1,645.8L381.5,643.4L383.2,641.9L382.8,639.4L384.5,638.1L384.3,635.7L386.2,634.5L385.8,632.0L388.1,630.9L389.5,629.5L391.5,629.9L392.8,628.3L394.9,629.0L396.3,627.3L398.3,628.3L399.9,626.8L401.8,627.9L403.4,626.4L405.4,627.5L407.7,627.3L408.1,629.4L410.6,629.0L410.5,631.6L412.6,631.7L412.5,634.1L414.0,635.7L413.3,637.5L414.9,639.0L413.9,640.9L415.5,642.5L414.4,644.4L415.9,645.9L414.6,647.9L415.8,649.4L414.7,651.3L414.2,653.6L412.4,653.8L412.2,655.8L410.1,656.1L409.8,658.7L407.6,658.3L407.3,660.3L404.9,660.2L404.8,662.1L402.2,662.1L399.6,663.2L398.0,661.6L395.7,662.3L393.9,660.6L391.5,661.4L389.9,659.1L387.6,658.0L387.6,655.9L385.6,655.1L385.5,652.7L383.5,651.8L383.7,649.3L381.3,648.2L382.1,645.8Z"/>
<path d="M398.7,645.2L382.1,645.8M398.7,645.2L388.1,630.9M398.7,645.2L405.4,627.5M398.7,645.2L412.5,634.1M398.7,645.2L414.7,651.3M398.7,645.2L402.2,662.1M398.7,645.2L389.9,659.1" stroke-width="1.2"/>
<path d="M398.7,645.2L389.2,657.8M398.7,645.2L395.9,660.8M398.7,645.2L396.0,660.8" stroke-width="0.8"/>
<path d="M398.5,697.4Q396.8,701.4 393.0,697.9Q391.3,700.7 390.1,697.2Q386.4,700.1 385.4,695.3Q381.1,697.0 381.3,692.9Q375.7,693.1 377.5,688.2Q373.7,687.4 376.5,685.3Q372.4,684.4 376.1,682.0Q373.9,678.7 376.4,677.1Q375.0,673.4 378.1,672.6Q378.7,667.5 382.7,668.2Q384.5,664.3 387.5,666.6Q387.8,663.9 390.9,665.8Q394.8,662.8 396.6,664.8Q398.9,662.1 401.0,665.2Q405.5,663.0 405.4,667.7Q409.0,668.0 408.6,671.5Q411.3,671.6 410.4,675.0Q413.4,676.2 411.3,679.6Q413.4,681.0 410.8,683.3Q411.8,686.7 408.1,688.6Q410.1,692.4 405.9,691.4Q408.0,694.9 404.1,693.4Q402.2,698.8 398.5,697.4Z"/>
<path d="M417.8,680.0Q418.0,677.3 421.8,678.1Q422.1,675.0 424.3,677.0Q425.5,673.5 428.7,675.7Q430.4,673.2 432.2,675.5Q433.9,673.3 436.0,676.2Q439.8,675.6 441.3,678.9Q444.2,678.1 445.4,682.3Q450.4,682.7 448.1,685.8Q452.3,686.7 449.3,688.9Q453.6,690.4 449.6,694.4Q452.8,696.8 448.9,698.3Q451.5,702.7 447.5,702.8Q449.4,707.9 444.3,708.4Q444.4,711.5 440.3,711.5Q439.7,715.7 436.9,712.5Q435.1,715.4 431.6,712.4Q429.8,715.9 428.8,711.9Q425.6,715.0 425.4,711.1Q422.7,714.5 422.9,710.2Q419.0,711.1 418.8,708.0Q415.0,708.6 415.8,705.1Q411.5,705.5 414.2,702.8Q410.1,703.1 412.2,699.3Q408.1,698.6 410.5,694.4Q407.3,692.6 410.2,691.1Q407.1,687.4 410.9,687.3Q409.1,683.7 413.7,683.1Q414.5,679.2 417.8,680.0Z"/>
<path d="M486.3,683.9L485.0,681.8L486.3,680.0L485.3,677.9L486.5,676.1L485.7,674.1L487.1,672.3L486.0,670.2L488.0,668.5L489.0,666.7L491.1,667.0L492.2,665.1L494.3,665.5L495.2,663.8L497.5,664.1L498.7,662.2L500.7,662.9L501.7,661.3L504.0,661.7L505.3,660.2L507.4,660.7L508.6,659.0L510.7,659.7L513.0,659.2L513.7,661.5L515.9,661.2L516.6,663.3L518.7,662.9L519.3,665.4L521.7,665.4L521.9,667.6L524.3,667.9L524.3,670.0L526.1,672.1L524.0,673.6L525.4,675.7L523.5,677.2L524.4,679.2L523.0,680.8L524.5,682.8L522.3,684.3L523.5,686.3L521.5,687.8L522.5,689.8L520.6,691.3L521.1,693.3L519.6,694.8L518.2,696.8L516.2,695.8L514.7,697.9L512.8,696.7L511.4,698.1L509.4,697.4L507.9,698.8L506.0,698.0L504.6,699.7L502.5,698.4L501.0,699.7L499.0,698.7L496.9,698.3L496.6,696.4L494.5,696.4L494.3,694.1L491.9,694.0L492.1,691.7L489.7,691.5L490.1,689.2L488.4,688.5L488.2,686.6L486.4,686.0L486.3,683.9Z"/>
<path d="M507.2,682.1L486.3,683.9M507.2,682.1L488.0,668.5M507.2,682.1L510.7,659.7M507.2,682.1L524.3,670.0M507.2,682.1L519.6,694.8M507.2,682.1L499.0,698.7" stroke-width="1.2"/>
<path d="M507.2,682.1L501.3,697.8M507.2,682.1L503.8,698.3M507.2,682.1L494.6,694.7" stroke-width="0.8"/>
<path d="M572.3,691.5Q574.7,689.2 576.0,691.7Q580.3,689.2 581.7,693.6Q585.0,693.0 584.4,695.6Q587.4,695.6 587.5,699.9Q590.8,700.8 589.2,703.7Q593.3,706.4 590.9,709.8Q594.3,713.2 590.5,714.0Q593.1,716.0 589.2,717.1Q591.8,719.9 586.7,719.9Q586.9,723.0 581.7,723.0Q579.5,727.6 576.0,725.3Q574.3,728.1 571.2,726.2Q567.3,729.8 566.0,725.6Q562.9,726.8 562.4,724.2Q558.5,726.3 558.9,722.2Q555.6,722.6 556.4,720.1Q552.4,719.4 553.2,713.9Q550.8,712.8 553.2,710.6Q551.4,708.1 554.6,705.5Q552.5,702.6 556.4,701.9Q554.9,698.5 558.0,698.9Q557.4,695.9 560.6,695.4Q562.1,689.5 566.0,692.3Q569.3,687.6 572.3,691.5Z"/>
<path d="M586.1,680.4L585.9,678.3L588.2,677.9L588.5,675.7L590.4,675.5L590.4,673.0L592.7,673.3L593.0,671.0L595.2,671.2L595.9,669.3L597.9,669.3L600.1,668.7L601.3,670.1L603.4,669.7L604.7,671.1L607.0,670.3L608.1,672.2L610.3,671.6L611.4,673.5L613.5,672.8L614.6,675.0L616.7,674.7L617.8,676.5L619.1,678.0L618.4,679.8L620.3,681.4L619.0,683.2L620.8,684.8L619.4,686.6L620.6,688.1L619.8,690.0L621.1,691.5L619.9,693.4L621.1,694.9L620.0,696.8L621.5,698.4L620.1,700.2L619.4,702.7L617.5,702.4L617.2,704.5L614.8,704.3L614.2,706.6L611.9,705.8L610.9,707.5L608.9,707.2L607.0,708.6L605.7,706.7L603.6,708.3L602.5,706.2L600.5,707.7L599.3,705.5L597.5,706.8L596.1,704.6L594.2,705.8L593.1,703.6L591.1,704.9L590.0,702.5L587.7,700.8L589.0,698.8L586.8,697.2L588.1,695.2L586.5,693.7L587.4,691.6L585.3,690.0L586.8,687.9L585.7,686.2L586.4,684.1L585.2,682.6L586.1,680.4Z"/>
<path d="M601.8,690.9L586.1,680.4M601.8,690.9L597.9,669.3M601.8,690.9L617.8,676.5M601.8,690.9L620.1,700.2M601.8,690.9L608.9,707.2M601.8,690.9L590.0,702.5" stroke-width="1.2"/>
<path d="M601.8,690.9L599.1,707.0M601.8,690.9L595.2,705.7M601.8,690.9L594.5,705.4" stroke-width="0.8"/>
<path d="M650.4,708.3Q653.2,709.3 650.1,711.1Q653.1,713.5 649.0,715.3Q651.9,719.5 647.5,720.4Q649.1,723.3 646.0,724.3Q646.7,728.0 643.2,728.4Q643.8,731.6 640.8,730.3Q639.6,733.2 636.4,732.2Q632.8,736.9 630.0,733.0Q626.7,735.6 625.3,732.3Q622.3,735.2 622.2,731.1Q619.2,733.2 618.7,728.3Q615.1,728.6 616.5,725.3Q613.4,725.5 614.3,720.7Q609.8,720.2 612.6,716.1Q608.6,714.5 611.5,712.0Q609.2,708.9 611.4,707.2Q609.0,701.8 613.8,701.7Q613.6,698.0 618.1,697.2Q618.3,692.8 622.0,694.4Q623.3,690.6 626.3,692.2Q628.0,687.7 631.1,691.4Q634.9,688.1 635.8,692.0Q639.7,689.2 641.4,694.4Q647.2,694.1 646.6,698.5Q650.0,698.9 648.8,701.5Q652.2,705.1 650.4,708.3Z"/>
<path d="M672.6,669.9Q676.0,669.3 674.9,672.7Q678.7,673.3 677.5,676.7Q680.3,676.6 678.7,679.3Q683.3,680.8 679.5,682.9Q683.0,686.1 678.9,687.3Q681.3,689.6 677.5,690.9Q678.3,694.1 675.3,694.2Q675.8,699.4 672.1,697.7Q672.0,701.1 669.6,699.4Q667.9,703.4 665.1,700.9Q662.4,703.7 659.9,701.1Q656.0,704.0 654.8,700.6Q651.7,702.1 651.7,699.9Q646.5,701.1 647.0,697.6Q642.8,695.9 643.7,692.7Q639.6,692.1 642.9,688.2Q640.1,685.0 643.2,683.1Q641.1,680.3 645.0,677.3Q643.9,672.4 648.1,672.8Q646.9,669.6 651.1,670.3Q650.8,667.0 653.4,668.8Q654.1,664.4 656.7,666.9Q658.1,662.6 659.5,665.8Q661.5,663.3 662.5,665.3Q664.0,662.6 665.7,665.6Q668.6,663.8 670.3,667.9Q672.7,667.0 672.6,669.9Z"/>
<path d="M706.3,692.2L707.6,690.1L709.6,690.9L710.8,689.2L713.0,689.6L714.3,687.6L716.4,688.5L717.9,686.9L719.9,687.6L721.1,685.4L723.4,686.8L724.9,684.9L726.9,686.1L729.2,685.6L729.7,688.1L731.9,688.4L732.3,690.2L734.9,690.2L734.9,692.4L737.4,692.7L737.3,694.7L739.2,694.8L739.6,697.2L742.1,697.7L741.9,699.7L742.8,701.9L741.2,703.2L742.5,705.3L740.3,706.6L741.2,708.9L739.4,710.0L740.7,712.1L738.4,713.4L739.2,715.5L737.2,716.7L738.3,718.6L735.9,720.0L736.4,722.1L734.6,723.2L733.3,724.7L731.4,724.3L730.1,725.9L728.3,725.2L726.9,727.5L725.0,725.9L723.8,727.5L721.7,726.3L720.4,728.0L718.4,726.6L716.1,726.4L715.9,724.6L713.3,725.0L713.4,722.6L711.4,722.8L710.9,720.4L708.9,720.3L708.6,718.2L706.7,718.3L706.4,715.9L704.5,716.1L704.2,713.5L702.3,713.7L702.1,711.1L700.3,709.0L702.4,707.9L700.9,705.9L702.9,704.7L702.2,702.7L703.5,701.5L703.0,699.6L704.3,698.4L702.8,696.6L705.2,695.3L703.8,693.3L706.3,692.2Z"/>
<path d="M725.0,709.7L706.3,692.2M725.0,709.7L726.9,686.1M725.0,709.7L741.9,699.7M725.0,709.7L734.6,723.2M725.0,709.7L718.4,726.6M725.0,709.7L702.1,711.1" stroke-width="1.2"/>
<path d="M725.0,709.7L714.2,724.8M725.0,709.7L725.1,726.2M725.0,709.7L716.8,725.7" stroke-width="0.8"/>
</g>
<g fill="none" stroke="#111" stroke-width="1.9" stroke-linecap="round" stroke-linejoin="round">
<path d="M174,150 C176,156 181,159 185,158 C189,158 191,156 193,152 L211,118 C222,100 240,84 262,78 C272,75 285,74 300,74 L799,75 C820,78 838,95 845,125 C851,150 851,180 846,202 C842,222 832,240 816,252 C808,258 800,262 794,266 C802,272 808,278 812,284 C822,300 830,320 834,345 C836,370 833,385 828,398 C823,412 815,425 806,436 L795,447 C802,454 809,462 815,471 C826,487 835,510 837,535 C839,555 838,575 832,592 C825,612 808,630 778,640"/>
<path d="M153,152 L177,186 C177,200 170,220 164,236 C162,242 160,249 158.5,255"/>
<path d="M153.5,272 C151,280 148,290 146,300 C142,325 141,360 141,406 C140,430 136,448 129,462 C124,472 118,481 114,487"/>
<path d="M182,170 C187,176 190,184 190,194 C189,208 186,218 184,226 C181,236 178,246 176,254"/>
<path d="M178.5,175 L182,170 L186,174"/>
<path d="M111,518 C116,516 120,519 121,526 C122,545 120,575 120,600 L119,757"/>
<path d="M121.5,777 L121.5,794"/>
<path d="M290,108 L795,107 C810,112 819,140 819,176 C819,212 805,240 783,250 C772,254 765,253 757,253 L200,252 C197,251 195.5,249 195.5,246 C197,228 203,208 211,188 C224,150 250,108 290,108 Z"/>
<path d="M191,288 L769,285.5 C788,293 803,315 805,345 C806,380 798,405 786,417 C779,426 773,431 766,432 L190,433 C182,430 178,420 178,412 C176,390 175,360 175,336 C175,318 177,304 179,297 C181,291 185,288 191,288 Z"/>
<path d="M198,468 L756,464 C785,464 805,485 811,510 C816,532 816,556 810,572 C804,590 793,604 778,608 L200,611 C196,608 195,604 195,600 L193,474 C193,470 195,468 198,468 Z"/>
<path d="M196,749 L196,650 C196,647 198,645 201,645 L778,641 L778,725"/>
<path d="M198.7,778 L198.7,793"/>
<line x1="216" y1="176.5" x2="819" y2="176.5"/>
<line x1="291" y1="108" x2="291" y2="176.5"/>
<line x1="347" y1="108" x2="347" y2="176.5"/>
<line x1="411" y1="108" x2="411" y2="176.5"/>
<line x1="468" y1="108" x2="468" y2="176.5"/>
<line x1="521" y1="108" x2="521" y2="176.5"/>
<line x1="578" y1="108" x2="578" y2="176.5"/>
<line x1="630" y1="108" x2="630" y2="176.5"/>
<line x1="689" y1="108" x2="689" y2="176.5"/>
<line x1="744" y1="108" x2="744" y2="176.5"/>
<line x1="246" y1="176.5" x2="246" y2="253"/>
<line x1="292" y1="176.5" x2="292" y2="253"/>
<line x1="348" y1="176.5" x2="348" y2="253"/>
<line x1="413" y1="176.5" x2="413" y2="253"/>
<line x1="470" y1="176.5" x2="470" y2="253"/>
<line x1="528" y1="176.5" x2="528" y2="253"/>
<line x1="588" y1="176.5" x2="588" y2="253"/>
<line x1="645" y1="176.5" x2="645" y2="253"/>
<line x1="702" y1="176.5" x2="702" y2="253"/>
<line x1="175" y1="358" x2="448" y2="357.5"/>
<line x1="516" y1="357" x2="736" y2="357"/>
<line x1="225" y1="287.5" x2="225" y2="357.5"/>
<line x1="279" y1="287.5" x2="279" y2="357.5"/>
<line x1="340" y1="287.5" x2="340" y2="357.5"/>
<line x1="396" y1="287.5" x2="396" y2="357.5"/>
<line x1="448" y1="287.5" x2="448" y2="357.5"/>
<line x1="516" y1="287.5" x2="516" y2="357.5"/>
<line x1="573" y1="287.5" x2="573" y2="357.5"/>
<line x1="625" y1="287.5" x2="625" y2="357.5"/>
<line x1="677" y1="287.5" x2="677" y2="357.5"/>
<line x1="736" y1="287.5" x2="736" y2="357.5"/>
<line x1="228" y1="357.5" x2="228" y2="432.5"/>
<line x1="275" y1="357.5" x2="275" y2="432.5"/>
<line x1="322" y1="357.5" x2="322" y2="432.5"/>
<line x1="384" y1="357.5" x2="384" y2="432.5"/>
<line x1="440" y1="357.5" x2="440" y2="432.5"/>
<line x1="518" y1="357.5" x2="518" y2="432.5"/>
<line x1="573" y1="357.5" x2="573" y2="432.5"/>
<line x1="625" y1="357.5" x2="625" y2="432.5"/>
<line x1="677" y1="357.5" x2="677" y2="432.5"/>
<line x1="736" y1="357.5" x2="736" y2="432.5"/>
<line x1="237" y1="538.5" x2="814" y2="537"/>
<line x1="237" y1="467" x2="237" y2="611"/>
<line x1="289" y1="466" x2="289" y2="538"/>
<line x1="339" y1="466" x2="339" y2="538"/>
<line x1="395" y1="466" x2="395" y2="538"/>
<line x1="450" y1="466" x2="450" y2="538"/>
<line x1="507" y1="466" x2="507" y2="538"/>
<line x1="565" y1="466" x2="565" y2="538"/>
<line x1="619" y1="466" x2="619" y2="538"/>
<line x1="671" y1="466" x2="671" y2="538"/>
<line x1="722" y1="466" x2="722" y2="538"/>
<line x1="290" y1="538" x2="290" y2="610.5"/>
<line x1="340" y1="538" x2="340" y2="610.5"/>
<line x1="396" y1="538" x2="396" y2="610.5"/>
<line x1="452" y1="538" x2="452" y2="610.5"/>
<line x1="509" y1="538" x2="509" y2="610.5"/>
<line x1="567" y1="538" x2="567" y2="610.5"/>
<line x1="619" y1="538" x2="619" y2="610.5"/>
<line x1="671" y1="538" x2="671" y2="610.5"/>
<line x1="722" y1="538" x2="722" y2="610.5"/>
<line x1="256.5" y1="644" x2="256.5" y2="725"/>
<line x1="308" y1="644" x2="308" y2="725"/>
<line x1="359.6" y1="644" x2="359.6" y2="725"/>
<line x1="412" y1="644" x2="412" y2="725"/>
<line x1="463.5" y1="644" x2="463.5" y2="725"/>
<line x1="516.7" y1="644" x2="516.7" y2="725"/>
<line x1="567.8" y1="644" x2="567.8" y2="725"/>
<line x1="620" y1="644" x2="620" y2="725"/>
<line x1="672.6" y1="644" x2="672.6" y2="725"/>
<line x1="723.7" y1="644" x2="723.7" y2="725"/>
</g>
<g fill="none" stroke="#111" stroke-width="1.9">
<rect x="460" y="331" width="48" height="64"/>
<rect x="10.5" y="352" width="107" height="62"/>
<rect x="208.5" y="480" width="22.5" height="120"/>
<rect x="151.5" y="496.5" width="17" height="135.5"/>
<rect x="147" y="683" width="28" height="29"/>
</g>
<g>
<circle cx="279" cy="122" r="10.3" fill="#fff" stroke="#111" stroke-width="1.8"/>
<text x="273.0" y="127" font-family="Liberation Sans" font-style="italic" font-size="14" fill="#111" stroke="#111" stroke-width="0.35" textLength="12" lengthAdjust="spacingAndGlyphs">71</text>
<circle cx="333" cy="121" r="10.3" fill="#fff" stroke="#111" stroke-width="1.8"/>
<text x="327.0" y="126" font-family="Liberation Sans" font-style="italic" font-size="14" fill="#111" stroke="#111" stroke-width="0.35" textLength="12" lengthAdjust="spacingAndGlyphs">70</text>
<circle cx="398" cy="122" r="10.3" fill="#fff" stroke="#111" stroke-width="1.8"/>
<text x="392.0" y="127" font-family="Liberation Sans" font-style="italic" font-size="14" fill="#111" stroke="#111" stroke-width="0.35" textLength="12" lengthAdjust="spacingAndGlyphs">69</text>
<circle cx="454" cy="121" r="10.3" fill="#fff" stroke="#111" stroke-width="1.8"/>
<text x="448.0" y="126" font-family="Liberation Sans" font-style="italic" font-size="14" fill="#111" stroke="#111" stroke-width="0.35" textLength="12" lengthAdjust="spacingAndGlyphs">68</text>
<circle cx="508" cy="122" r="10.3" fill="#fff" stroke="#111" stroke-width="1.8"/>
<text x="502.0" y="127" font-family="Liberation Sans" font-style="italic" font-size="14" fill="#111" stroke="#111" stroke-width="0.35" textLength="12" lengthAdjust="spacingAndGlyphs">67</text>
<circle cx="563" cy="121" r="10.3" fill="#fff" stroke="#111" stroke-width="1.8"/>
<text x="557.0" y="126" font-family="Liberation Sans" font-style="italic" font-size="14" fill="#111" stroke="#111" stroke-width="0.35" textLength="12" lengthAdjust="spacingAndGlyphs">66</text>
<circle cx="615" cy="121" r="10.3" fill="#fff" stroke="#111" stroke-width="1.8"/>
<text x="609.0" y="126" font-family="Liberation Sans" font-style="italic" font-size="14" fill="#111" stroke="#111" stroke-width="0.35" textLength="12" lengthAdjust="spacingAndGlyphs">65</text>
<circle cx="674" cy="121" r="10.3" fill="#fff" stroke="#111" stroke-width="1.8"/>
<text x="668.0" y="126" font-family="Liberation Sans" font-style="italic" font-size="14" fill="#111" stroke="#111" stroke-width="0.35" textLength="12" lengthAdjust="spacingAndGlyphs">64</text>
<circle cx="729" cy="122" r="10.3" fill="#fff" stroke="#111" stroke-width="1.8"/>
<text x="723.0" y="127" font-family="Liberation Sans" font-style="italic" font-size="14" fill="#111" stroke="#111" stroke-width="0.35" textLength="12" lengthAdjust="spacingAndGlyphs">63</text>
<circle cx="789" cy="122" r="10.3" fill="#fff" stroke="#111" stroke-width="1.8"/>
<text x="783.0" y="127" font-family="Liberation Sans" font-style="italic" font-size="14" fill="#111" stroke="#111" stroke-width="0.35" textLength="12" lengthAdjust="spacingAndGlyphs">62</text>
<circle cx="211" cy="236" r="10.3" fill="#fff" stroke="#111" stroke-width="1.8"/>
<text x="205.0" y="241" font-family="Liberation Sans" font-style="italic" font-size="14" fill="#111" stroke="#111" stroke-width="0.35" textLength="12" lengthAdjust="spacingAndGlyphs">44</text>
<circle cx="260" cy="236" r="10.3" fill="#fff" stroke="#111" stroke-width="1.8"/>
<text x="254.0" y="241" font-family="Liberation Sans" font-style="italic" font-size="14" fill="#111" stroke="#111" stroke-width="0.35" textLength="12" lengthAdjust="spacingAndGlyphs">46</text>
<circle cx="306" cy="235" r="10.3" fill="#fff" stroke="#111" stroke-width="1.8"/>
<text x="300.0" y="240" font-family="Liberation Sans" font-style="italic" font-size="14" fill="#111" stroke="#111" stroke-width="0.35" textLength="12" lengthAdjust="spacingAndGlyphs">48</text>
<circle cx="363" cy="235" r="10.3" fill="#fff" stroke="#111" stroke-width="1.8"/>
<text x="357.0" y="240" font-family="Liberation Sans" font-style="italic" font-size="14" fill="#111" stroke="#111" stroke-width="0.35" textLength="12" lengthAdjust="spacingAndGlyphs">50</text>
<circle cx="427" cy="236" r="10.3" fill="#fff" stroke="#111" stroke-width="1.8"/>
<text x="421.0" y="241" font-family="Liberation Sans" font-style="italic" font-size="14" fill="#111" stroke="#111" stroke-width="0.35" textLength="12" lengthAdjust="spacingAndGlyphs">52</text>
<circle cx="482" cy="236" r="10.3" fill="#fff" stroke="#111" stroke-width="1.8"/>
<text x="476.0" y="241" font-family="Liberation Sans" font-style="italic" font-size="14" fill="#111" stroke="#111" stroke-width="0.35" textLength="12" lengthAdjust="spacingAndGlyphs">53</text>
<circle cx="541" cy="236" r="10.3" fill="#fff" stroke="#111" stroke-width="1.8"/>
<text x="535.0" y="241" font-family="Liberation Sans" font-style="italic" font-size="14" fill="#111" stroke="#111" stroke-width="0.35" textLength="12" lengthAdjust="spacingAndGlyphs">54</text>
<circle cx="602" cy="237" r="10.3" fill="#fff" stroke="#111" stroke-width="1.8"/>
<text x="596.0" y="242" font-family="Liberation Sans" font-style="italic" font-size="14" fill="#111" stroke="#111" stroke-width="0.35" textLength="12" lengthAdjust="spacingAndGlyphs">56</text>
<circle cx="660" cy="237" r="10.3" fill="#fff" stroke="#111" stroke-width="1.8"/>
<text x="654.0" y="242" font-family="Liberation Sans" font-style="italic" font-size="14" fill="#111" stroke="#111" stroke-width="0.35" textLength="12" lengthAdjust="spacingAndGlyphs">58</text>
<circle cx="716" cy="237" r="10.3" fill="#fff" stroke="#111" stroke-width="1.8"/>
<text x="710.0" y="242" font-family="Liberation Sans" font-style="italic" font-size="14" fill="#111" stroke="#111" stroke-width="0.35" textLength="12" lengthAdjust="spacingAndGlyphs">60</text>
<circle cx="193" cy="302" r="10.3" fill="#fff" stroke="#111" stroke-width="1.8"/>
<text x="187.0" y="307" font-family="Liberation Sans" font-style="italic" font-size="14" fill="#111" stroke="#111" stroke-width="0.35" textLength="12" lengthAdjust="spacingAndGlyphs">43</text>
<circle cx="239" cy="302" r="10.3" fill="#fff" stroke="#111" stroke-width="1.8"/>
<text x="233.0" y="307" font-family="Liberation Sans" font-style="italic" font-size="14" fill="#111" stroke="#111" stroke-width="0.35" textLength="12" lengthAdjust="spacingAndGlyphs">45</text>
<circle cx="292" cy="302" r="10.3" fill="#fff" stroke="#111" stroke-width="1.8"/>
<text x="286.0" y="307" font-family="Liberation Sans" font-style="italic" font-size="14" fill="#111" stroke="#111" stroke-width="0.35" textLength="12" lengthAdjust="spacingAndGlyphs">47</text>
<circle cx="351" cy="300" r="10.3" fill="#fff" stroke="#111" stroke-width="1.8"/>
<text x="345.0" y="305" font-family="Liberation Sans" font-style="italic" font-size="14" fill="#111" stroke="#111" stroke-width="0.35" textLength="12" lengthAdjust="spacingAndGlyphs">49</text>
<circle cx="409" cy="300" r="10.3" fill="#fff" stroke="#111" stroke-width="1.8"/>
<text x="403.0" y="305" font-family="Liberation Sans" font-style="italic" font-size="14" fill="#111" stroke="#111" stroke-width="0.35" textLength="12" lengthAdjust="spacingAndGlyphs">51</text>
<circle cx="529" cy="298" r="10.3" fill="#fff" stroke="#111" stroke-width="1.8"/>
<text x="523.0" y="303" font-family="Liberation Sans" font-style="italic" font-size="14" fill="#111" stroke="#111" stroke-width="0.35" textLength="12" lengthAdjust="spacingAndGlyphs">55</text>
<circle cx="587" cy="299" r="10.3" fill="#fff" stroke="#111" stroke-width="1.8"/>
<text x="581.0" y="304" font-family="Liberation Sans" font-style="italic" font-size="14" fill="#111" stroke="#111" stroke-width="0.35" textLength="12" lengthAdjust="spacingAndGlyphs">57</text>
<circle cx="638" cy="299" r="10.3" fill="#fff" stroke="#111" stroke-width="1.8"/>
<text x="632.0" y="304" font-family="Liberation Sans" font-style="italic" font-size="14" fill="#111" stroke="#111" stroke-width="0.35" textLength="12" lengthAdjust="spacingAndGlyphs">59</text>
<circle cx="690" cy="300" r="10.3" fill="#fff" stroke="#111" stroke-width="1.8"/>
<text x="684.0" y="305" font-family="Liberation Sans" font-style="italic" font-size="14" fill="#111" stroke="#111" stroke-width="0.35" textLength="12" lengthAdjust="spacingAndGlyphs">61</text>
<circle cx="213" cy="418" r="10.3" fill="#fff" stroke="#111" stroke-width="1.8"/>
<text x="207.0" y="423" font-family="Liberation Sans" font-style="italic" font-size="14" fill="#111" stroke="#111" stroke-width="0.35" textLength="12" lengthAdjust="spacingAndGlyphs">42</text>
<circle cx="260" cy="418" r="10.3" fill="#fff" stroke="#111" stroke-width="1.8"/>
<text x="254.0" y="423" font-family="Liberation Sans" font-style="italic" font-size="14" fill="#111" stroke="#111" stroke-width="0.35" textLength="12" lengthAdjust="spacingAndGlyphs">40</text>
<circle cx="308" cy="417" r="10.3" fill="#fff" stroke="#111" stroke-width="1.8"/>
<text x="302.0" y="422" font-family="Liberation Sans" font-style="italic" font-size="14" fill="#111" stroke="#111" stroke-width="0.35" textLength="12" lengthAdjust="spacingAndGlyphs">38</text>
<circle cx="369" cy="417" r="10.3" fill="#fff" stroke="#111" stroke-width="1.8"/>
<text x="363.0" y="422" font-family="Liberation Sans" font-style="italic" font-size="14" fill="#111" stroke="#111" stroke-width="0.35" textLength="12" lengthAdjust="spacingAndGlyphs">36</text>
<circle cx="425" cy="417" r="10.3" fill="#fff" stroke="#111" stroke-width="1.8"/>
<text x="419.0" y="422" font-family="Liberation Sans" font-style="italic" font-size="14" fill="#111" stroke="#111" stroke-width="0.35" textLength="12" lengthAdjust="spacingAndGlyphs">34</text>
<circle cx="560" cy="415" r="10.3" fill="#fff" stroke="#111" stroke-width="1.8"/>
<text x="554.0" y="420" font-family="Liberation Sans" font-style="italic" font-size="14" fill="#111" stroke="#111" stroke-width="0.35" textLength="12" lengthAdjust="spacingAndGlyphs">30</text>
<circle cx="611" cy="415" r="10.3" fill="#fff" stroke="#111" stroke-width="1.8"/>
<text x="605.0" y="420" font-family="Liberation Sans" font-style="italic" font-size="14" fill="#111" stroke="#111" stroke-width="0.35" textLength="12" lengthAdjust="spacingAndGlyphs">28</text>
<circle cx="664" cy="415" r="10.3" fill="#fff" stroke="#111" stroke-width="1.8"/>
<text x="658.0" y="420" font-family="Liberation Sans" font-style="italic" font-size="14" fill="#111" stroke="#111" stroke-width="0.35" textLength="12" lengthAdjust="spacingAndGlyphs">26</text>
<circle cx="722" cy="415" r="10.3" fill="#fff" stroke="#111" stroke-width="1.8"/>
<text x="716.0" y="420" font-family="Liberation Sans" font-style="italic" font-size="14" fill="#111" stroke="#111" stroke-width="0.35" textLength="12" lengthAdjust="spacingAndGlyphs">24</text>
<circle cx="274" cy="480" r="10.3" fill="#fff" stroke="#111" stroke-width="1.8"/>
<text x="268.0" y="485" font-family="Liberation Sans" font-style="italic" font-size="14" fill="#111" stroke="#111" stroke-width="0.35" textLength="12" lengthAdjust="spacingAndGlyphs">39</text>
<circle cx="326" cy="481" r="10.3" fill="#fff" stroke="#111" stroke-width="1.8"/>
<text x="320.0" y="486" font-family="Liberation Sans" font-style="italic" font-size="14" fill="#111" stroke="#111" stroke-width="0.35" textLength="12" lengthAdjust="spacingAndGlyphs">37</text>
<circle cx="379" cy="481" r="10.3" fill="#fff" stroke="#111" stroke-width="1.8"/>
<text x="373.0" y="486" font-family="Liberation Sans" font-style="italic" font-size="14" fill="#111" stroke="#111" stroke-width="0.35" textLength="12" lengthAdjust="spacingAndGlyphs">35</text>
<circle cx="435" cy="481" r="10.3" fill="#fff" stroke="#111" stroke-width="1.8"/>
<text x="429.0" y="486" font-family="Liberation Sans" font-style="italic" font-size="14" fill="#111" stroke="#111" stroke-width="0.35" textLength="12" lengthAdjust="spacingAndGlyphs">33</text>
<circle cx="493" cy="480" r="10.3" fill="#fff" stroke="#111" stroke-width="1.8"/>
<text x="487.0" y="485" font-family="Liberation Sans" font-style="italic" font-size="14" fill="#111" stroke="#111" stroke-width="0.35" textLength="12" lengthAdjust="spacingAndGlyphs">32</text>
<circle cx="552" cy="480" r="10.3" fill="#fff" stroke="#111" stroke-width="1.8"/>
<text x="546.0" y="485" font-family="Liberation Sans" font-style="italic" font-size="14" fill="#111" stroke="#111" stroke-width="0.35" textLength="12" lengthAdjust="spacingAndGlyphs">31</text>
<circle cx="603" cy="478" r="10.3" fill="#fff" stroke="#111" stroke-width="1.8"/>
<text x="597.0" y="483" font-family="Liberation Sans" font-style="italic" font-size="14" fill="#111" stroke="#111" stroke-width="0.35" textLength="12" lengthAdjust="spacingAndGlyphs">29</text>
<circle cx="656" cy="478" r="10.3" fill="#fff" stroke="#111" stroke-width="1.8"/>
<text x="650.0" y="483" font-family="Liberation Sans" font-style="italic" font-size="14" fill="#111" stroke="#111" stroke-width="0.35" textLength="12" lengthAdjust="spacingAndGlyphs">27</text>
<circle cx="707" cy="478" r="10.3" fill="#fff" stroke="#111" stroke-width="1.8"/>
<text x="701.0" y="483" font-family="Liberation Sans" font-style="italic" font-size="14" fill="#111" stroke="#111" stroke-width="0.35" textLength="12" lengthAdjust="spacingAndGlyphs">25</text>
<circle cx="769" cy="479" r="10.3" fill="#fff" stroke="#111" stroke-width="1.8"/>
<text x="763.0" y="484" font-family="Liberation Sans" font-style="italic" font-size="14" fill="#111" stroke="#111" stroke-width="0.35" textLength="12" lengthAdjust="spacingAndGlyphs">23</text>
<circle cx="252" cy="595" r="10.3" fill="#fff" stroke="#111" stroke-width="1.8"/>
<text x="248.75" y="600" font-family="Liberation Sans" font-style="italic" font-size="14" fill="#111" stroke="#111" stroke-width="0.35" textLength="6.5" lengthAdjust="spacingAndGlyphs">3</text>
<circle cx="303" cy="595" r="10.3" fill="#fff" stroke="#111" stroke-width="1.8"/>
<text x="299.75" y="600" font-family="Liberation Sans" font-style="italic" font-size="14" fill="#111" stroke="#111" stroke-width="0.35" textLength="6.5" lengthAdjust="spacingAndGlyphs">5</text>
<circle cx="354" cy="595" r="10.3" fill="#fff" stroke="#111" stroke-width="1.8"/>
<text x="350.75" y="600" font-family="Liberation Sans" font-style="italic" font-size="14" fill="#111" stroke="#111" stroke-width="0.35" textLength="6.5" lengthAdjust="spacingAndGlyphs">7</text>
<circle cx="408" cy="593" r="10.3" fill="#fff" stroke="#111" stroke-width="1.8"/>
<text x="404.75" y="598" font-family="Liberation Sans" font-style="italic" font-size="14" fill="#111" stroke="#111" stroke-width="0.35" textLength="6.5" lengthAdjust="spacingAndGlyphs">9</text>
<circle cx="466" cy="593" r="10.3" fill="#fff" stroke="#111" stroke-width="1.8"/>
<text x="460.0" y="598" font-family="Liberation Sans" font-style="italic" font-size="14" fill="#111" stroke="#111" stroke-width="0.35" textLength="12" lengthAdjust="spacingAndGlyphs">11</text>
<circle cx="524" cy="593" r="10.3" fill="#fff" stroke="#111" stroke-width="1.8"/>
<text x="518.0" y="598" font-family="Liberation Sans" font-style="italic" font-size="14" fill="#111" stroke="#111" stroke-width="0.35" textLength="12" lengthAdjust="spacingAndGlyphs">13</text>
<circle cx="583" cy="593" r="10.3" fill="#fff" stroke="#111" stroke-width="1.8"/>
<text x="577.0" y="598" font-family="Liberation Sans" font-style="italic" font-size="14" fill="#111" stroke="#111" stroke-width="0.35" textLength="12" lengthAdjust="spacingAndGlyphs">15</text>
<circle cx="632" cy="593" r="10.3" fill="#fff" stroke="#111" stroke-width="1.8"/>
<text x="626.0" y="598" font-family="Liberation Sans" font-style="italic" font-size="14" fill="#111" stroke="#111" stroke-width="0.35" textLength="12" lengthAdjust="spacingAndGlyphs">17</text>
<circle cx="684" cy="593" r="10.3" fill="#fff" stroke="#111" stroke-width="1.8"/>
<text x="678.0" y="598" font-family="Liberation Sans" font-style="italic" font-size="14" fill="#111" stroke="#111" stroke-width="0.35" textLength="12" lengthAdjust="spacingAndGlyphs">19</text>
<circle cx="735" cy="593" r="10.3" fill="#fff" stroke="#111" stroke-width="1.8"/>
<text x="729.0" y="598" font-family="Liberation Sans" font-style="italic" font-size="14" fill="#111" stroke="#111" stroke-width="0.35" textLength="12" lengthAdjust="spacingAndGlyphs">21</text>
<circle cx="209" cy="659" r="10.3" fill="#fff" stroke="#111" stroke-width="1.8"/>
<text x="205.75" y="664" font-family="Liberation Sans" font-style="italic" font-size="14" fill="#111" stroke="#111" stroke-width="0.35" textLength="6.5" lengthAdjust="spacingAndGlyphs">2</text>
<circle cx="268" cy="659" r="10.3" fill="#fff" stroke="#111" stroke-width="1.8"/>
<text x="264.75" y="664" font-family="Liberation Sans" font-style="italic" font-size="14" fill="#111" stroke="#111" stroke-width="0.35" textLength="6.5" lengthAdjust="spacingAndGlyphs">4</text>
<circle cx="321" cy="659" r="10.3" fill="#fff" stroke="#111" stroke-width="1.8"/>
<text x="317.75" y="664" font-family="Liberation Sans" font-style="italic" font-size="14" fill="#111" stroke="#111" stroke-width="0.35" textLength="6.5" lengthAdjust="spacingAndGlyphs">6</text>
<circle cx="373" cy="659" r="10.3" fill="#fff" stroke="#111" stroke-width="1.8"/>
<text x="369.75" y="664" font-family="Liberation Sans" font-style="italic" font-size="14" fill="#111" stroke="#111" stroke-width="0.35" textLength="6.5" lengthAdjust="spacingAndGlyphs">8</text>
<circle cx="425" cy="659" r="10.3" fill="#fff" stroke="#111" stroke-width="1.8"/>
<text x="419.0" y="664" font-family="Liberation Sans" font-style="italic" font-size="14" fill="#111" stroke="#111" stroke-width="0.35" textLength="12" lengthAdjust="spacingAndGlyphs">10</text>
<circle cx="478" cy="658" r="10.3" fill="#fff" stroke="#111" stroke-width="1.8"/>
<text x="472.0" y="663" font-family="Liberation Sans" font-style="italic" font-size="14" fill="#111" stroke="#111" stroke-width="0.35" textLength="12" lengthAdjust="spacingAndGlyphs">12</text>
<circle cx="531" cy="658" r="10.3" fill="#fff" stroke="#111" stroke-width="1.8"/>
<text x="525.0" y="663" font-family="Liberation Sans" font-style="italic" font-size="14" fill="#111" stroke="#111" stroke-width="0.35" textLength="12" lengthAdjust="spacingAndGlyphs">14</text>
<circle cx="582" cy="658" r="10.3" fill="#fff" stroke="#111" stroke-width="1.8"/>
<text x="576.0" y="663" font-family="Liberation Sans" font-style="italic" font-size="14" fill="#111" stroke="#111" stroke-width="0.35" textLength="12" lengthAdjust="spacingAndGlyphs">16</text>
<circle cx="633" cy="656" r="10.3" fill="#fff" stroke="#111" stroke-width="1.8"/>
<text x="627.0" y="661" font-family="Liberation Sans" font-style="italic" font-size="14" fill="#111" stroke="#111" stroke-width="0.35" textLength="12" lengthAdjust="spacingAndGlyphs">18</text>
<circle cx="687" cy="656" r="10.3" fill="#fff" stroke="#111" stroke-width="1.8"/>
<text x="681.0" y="661" font-family="Liberation Sans" font-style="italic" font-size="14" fill="#111" stroke="#111" stroke-width="0.35" textLength="12" lengthAdjust="spacingAndGlyphs">20</text>
<circle cx="738" cy="656" r="10.3" fill="#fff" stroke="#111" stroke-width="1.8"/>
<text x="732.0" y="661" font-family="Liberation Sans" font-style="italic" font-size="14" fill="#111" stroke="#111" stroke-width="0.35" textLength="12" lengthAdjust="spacingAndGlyphs">22</text>
</g>
<text x="126" y="39.5" font-family="Liberation Sans" font-size="12" fill="#111" textLength="39" lengthAdjust="spacingAndGlyphs">GROUP</text>
<text x="130" y="56" font-family="Liberation Sans" font-size="12" fill="#111" textLength="54" lengthAdjust="spacingAndGlyphs">CAMPING</text>
<text x="150" y="73" font-family="Liberation Sans" font-size="12" fill="#111" textLength="31" lengthAdjust="spacingAndGlyphs">AREA</text>
<text x="86" y="196" font-family="Liberation Sans" font-size="12" fill="#111" textLength="39" lengthAdjust="spacingAndGlyphs">GROUP</text>
<text x="92" y="213" font-family="Liberation Sans" font-size="12" fill="#111" textLength="55" lengthAdjust="spacingAndGlyphs">CAMPING</text>
<text x="123" y="230" font-family="Liberation Sans" font-size="12" fill="#111" textLength="30" lengthAdjust="spacingAndGlyphs">AREA</text>
<text x="22" y="373.5" font-family="Liberation Sans" font-size="10.5" fill="#111" textLength="81" lengthAdjust="spacingAndGlyphs">PICNIC SHELTER</text>
<text x="34" y="401.5" font-family="Liberation Sans" font-size="10.5" fill="#111" textLength="62" lengthAdjust="spacingAndGlyphs">RESTROOMS</text>
<text x="151.5" y="271" font-family="Liberation Sans" font-size="15" fill="#111" font-style="italic" textLength="13" lengthAdjust="spacingAndGlyphs">TO</text>
<text x="172.5" y="271" font-family="Liberation Sans" font-size="15" fill="#111" font-style="italic" textLength="39" lengthAdjust="spacingAndGlyphs">CANOE</text>
<text x="223.5" y="271" font-family="Liberation Sans" font-size="15" fill="#111" font-style="italic" textLength="53" lengthAdjust="spacingAndGlyphs">LAUNCH</text>
<text x="141" y="727" font-family="Liberation Sans" font-size="12" fill="#111" font-style="italic" textLength="34" lengthAdjust="spacingAndGlyphs">OFFICE</text>
<text x="120" y="773" font-family="Liberation Sans" font-size="12" fill="#111" font-style="italic" textLength="24" lengthAdjust="spacingAndGlyphs">EXIT</text>
<text x="169" y="772" font-family="Liberation Sans" font-size="12" fill="#111" font-style="italic" textLength="48" lengthAdjust="spacingAndGlyphs">ENTRANCE</text>
<text x="863" y="512.5" font-family="Liberation Sans" font-size="18" fill="#111" textLength="105" lengthAdjust="spacingAndGlyphs">FULL HOOKUP</text>
<text x="890" y="534" font-family="Liberation Sans" font-size="18" fill="#111" textLength="48" lengthAdjust="spacingAndGlyphs">SITES</text>
<text x="557" y="757" font-family="Liberation Sans" font-size="23" fill="#111" font-weight="bold" textLength="296" lengthAdjust="spacingAndGlyphs">PARIS PARK CAMPGROUND</text>
<text transform="translate(191,136) rotate(-90)" font-family="Liberation Sans" font-style="italic" font-weight="bold" font-size="12" fill="#111" textLength="36" lengthAdjust="spacingAndGlyphs">NORTH</text>
<text transform="translate(166,603) rotate(-90)" font-family="Liberation Sans" font-size="13" fill="#111" textLength="82" lengthAdjust="spacingAndGlyphs">DUMP STATION</text>
<text transform="translate(225,588) rotate(-90)" font-family="Liberation Sans" font-style="italic" font-size="14" fill="#111" textLength="93" lengthAdjust="spacingAndGlyphs">MGR'S TRAILER</text>
<text transform="translate(136,493) rotate(-77)" font-family="Liberation Sans" font-style="italic" font-size="13" fill="#111" textLength="82" lengthAdjust="spacingAndGlyphs">TO PARKING</text>
<text x="465" y="345.5" font-family="Liberation Sans" font-size="12" fill="#111" font-style="italic" font-weight="bold" textLength="38" lengthAdjust="spacingAndGlyphs">BATHRM</text>
<text x="466" y="360.5" font-family="Liberation Sans" font-size="12" fill="#111" font-style="italic" font-weight="bold" textLength="38" lengthAdjust="spacingAndGlyphs">SHOWER</text>
<text x="463.5" y="376" font-family="Liberation Sans" font-size="12" fill="#111" font-style="italic" font-weight="bold" textLength="43" lengthAdjust="spacingAndGlyphs">BUILDING</text>
<g fill="none" stroke="#111" stroke-width="1.6">
<path d="M125,124 L149,116 C147,121 147,127 149,131 Z"/>
<path d="M165,124 L176,124"/><path d="M167,124 L170,122.3 L173,124 L170,125.7 Z" fill="#fff" stroke-width="1.3"/>
<path d="M118,496 L109,506 M109,500 L109,506 L115,506"/>
<path d="M130.5,743 L130.5,757 M127,752 L130.5,757 L134,752"/>
<path d="M183,753 L183,737 M179.5,742 L183,737 L186.5,742"/>
<path d="M828.6,535.5 L869,532.5 L879,522 M834,531 L828.6,535.5 L834,540"/>
</g>
</svg>
</body></html>
